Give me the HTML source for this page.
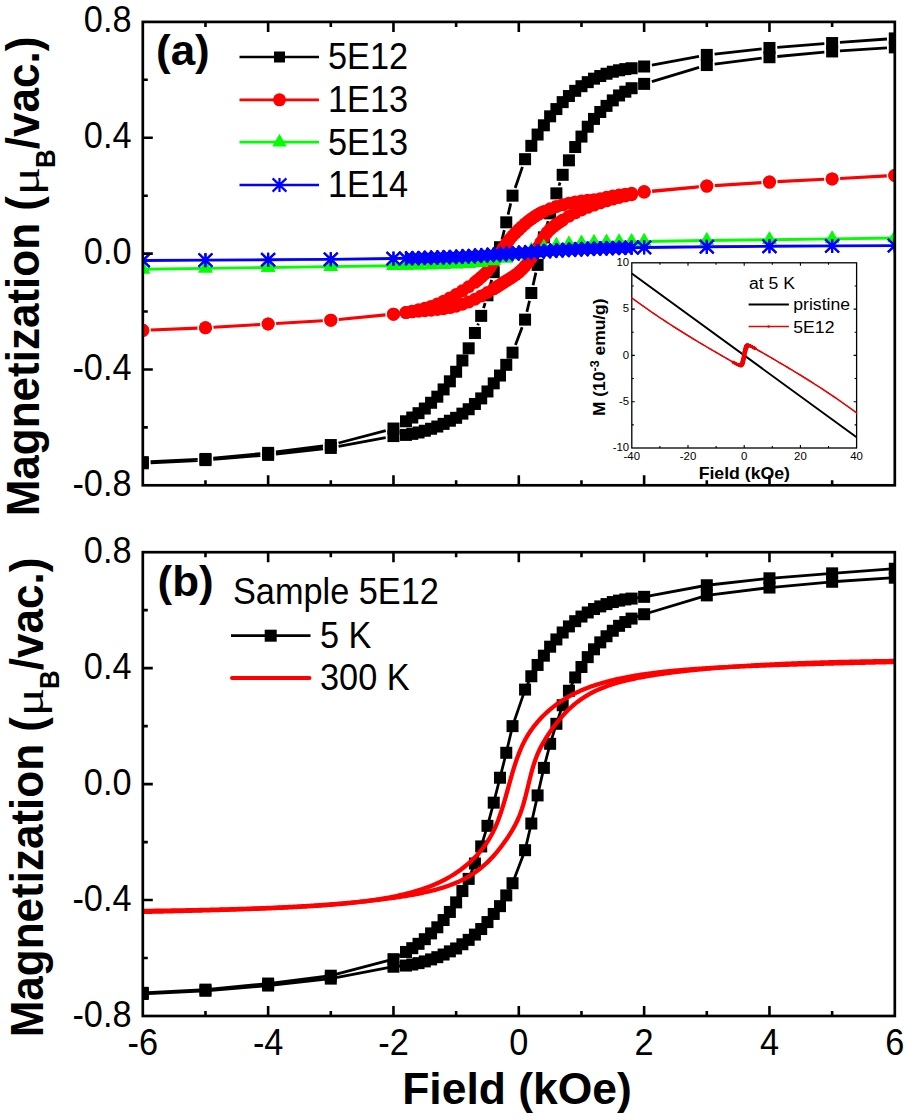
<!DOCTYPE html><html><head><meta charset="utf-8"><title>Magnetization</title><style>html,body{margin:0;padding:0;background:#fff;width:908px;height:1120px;overflow:hidden}</style></head><body><svg width="908" height="1120" viewBox="0 0 908 1120" style="display:block"><rect width="908" height="1120" fill="#fff"/><defs><clipPath id="ca"><rect x="142.8" y="21.9" width="752.0" height="463.40000000000003"/></clipPath><clipPath id="cb"><rect x="142.8" y="552.2" width="752.0" height="463.79999999999995"/></clipPath></defs><g clip-path="url(#ca)"><path d="M887,38.99L839.93,42.47M824.34,43.66L777.26,47.35M761.68,48.83L714.59,54.05M699.03,56.35L651.9,65.07M522.42,166.88L515.18,187.97M510.71,203.43L508.09,214.57M504.32,230.07L501.95,239.48M498.05,254.97L495.68,264.39M491.64,279.87L489.56,287.57M485.11,303.03L483.55,308.15M478.38,323.56L477.75,325.27M385.73,430.57L338.54,443M323.01,446.01L275.92,451.89M260.34,453.62L213.26,458.19M197.67,459.34L150.6,461.73M150.6,462.89L197.67,460.5M213.26,459.45L260.34,455.54M275.92,454.03L323.01,448.8M338.57,446.47L385.7,437.54M515.45,344.97L522.15,327.32M526.89,311.88L529.51,300.74M533.06,285.23L535.87,272.65M539.37,257.14L542.1,245.14M545.88,229.64L548.12,221.08M552.55,205.62L553.98,201.08M559,185.65L560.06,182.53M651.86,81.56L699.08,67.37M714.59,64.08L761.68,58.21M777.26,56.51L824.34,52.16M839.93,50.94L887,47.89" fill="none" stroke="#000" stroke-width="2.8" stroke-linecap="butt"/><rect x="888.8" y="32.41" width="12" height="12" fill="#000"/><rect x="826.13" y="37.04" width="12" height="12" fill="#000"/><rect x="763.47" y="41.97" width="12" height="12" fill="#000"/><rect x="700.8" y="48.92" width="12" height="12" fill="#000"/><rect x="638.13" y="60.5" width="12" height="12" fill="#000"/><rect x="625.6" y="62.24" width="12" height="12" fill="#000"/><rect x="619.33" y="63.11" width="12" height="12" fill="#000"/><rect x="613.07" y="64.27" width="12" height="12" fill="#000"/><rect x="606.8" y="65.72" width="12" height="12" fill="#000"/><rect x="600.53" y="67.74" width="12" height="12" fill="#000"/><rect x="594.27" y="70.06" width="12" height="12" fill="#000"/><rect x="588" y="72.67" width="12" height="12" fill="#000"/><rect x="581.73" y="76.14" width="12" height="12" fill="#000"/><rect x="575.47" y="80.2" width="12" height="12" fill="#000"/><rect x="569.2" y="84.83" width="12" height="12" fill="#000"/><rect x="562.93" y="90.04" width="12" height="12" fill="#000"/><rect x="556.67" y="96.13" width="12" height="12" fill="#000"/><rect x="550.4" y="103.08" width="12" height="12" fill="#000"/><rect x="544.13" y="110.32" width="12" height="12" fill="#000"/><rect x="537.87" y="119.3" width="12" height="12" fill="#000"/><rect x="531.6" y="128.56" width="12" height="12" fill="#000"/><rect x="525.33" y="139.86" width="12" height="12" fill="#000"/><rect x="519.07" y="153.18" width="12" height="12" fill="#000"/><rect x="506.53" y="189.67" width="12" height="12" fill="#000"/><rect x="500.27" y="216.32" width="12" height="12" fill="#000"/><rect x="494" y="241.23" width="12" height="12" fill="#000"/><rect x="487.73" y="266.14" width="12" height="12" fill="#000"/><rect x="481.47" y="289.31" width="12" height="12" fill="#000"/><rect x="475.2" y="309.87" width="12" height="12" fill="#000"/><rect x="468.93" y="326.96" width="12" height="12" fill="#000"/><rect x="462.67" y="342.31" width="12" height="12" fill="#000"/><rect x="456.4" y="354.47" width="12" height="12" fill="#000"/><rect x="450.13" y="365.77" width="12" height="12" fill="#000"/><rect x="443.87" y="375.32" width="12" height="12" fill="#000"/><rect x="437.6" y="383.43" width="12" height="12" fill="#000"/><rect x="431.33" y="390.67" width="12" height="12" fill="#000"/><rect x="425.07" y="396.76" width="12" height="12" fill="#000"/><rect x="418.8" y="402.55" width="12" height="12" fill="#000"/><rect x="412.53" y="407.18" width="12" height="12" fill="#000"/><rect x="406.27" y="411.53" width="12" height="12" fill="#000"/><rect x="400" y="415.29" width="12" height="12" fill="#000"/><rect x="387.47" y="422.53" width="12" height="12" fill="#000"/><rect x="324.8" y="439.04" width="12" height="12" fill="#000"/><rect x="262.13" y="446.86" width="12" height="12" fill="#000"/><rect x="199.47" y="452.94" width="12" height="12" fill="#000"/><rect x="136.8" y="456.13" width="12" height="12" fill="#000"/><rect x="136.8" y="457.29" width="12" height="12" fill="#000"/><rect x="199.47" y="454.1" width="12" height="12" fill="#000"/><rect x="262.13" y="448.89" width="12" height="12" fill="#000"/><rect x="324.8" y="441.94" width="12" height="12" fill="#000"/><rect x="387.47" y="430.06" width="12" height="12" fill="#000"/><rect x="400" y="428.91" width="12" height="12" fill="#000"/><rect x="406.27" y="427.87" width="12" height="12" fill="#000"/><rect x="412.53" y="426.49" width="12" height="12" fill="#000"/><rect x="418.8" y="424.76" width="12" height="12" fill="#000"/><rect x="425.07" y="422.76" width="12" height="12" fill="#000"/><rect x="431.33" y="420.53" width="12" height="12" fill="#000"/><rect x="437.6" y="417.88" width="12" height="12" fill="#000"/><rect x="443.87" y="414.71" width="12" height="12" fill="#000"/><rect x="450.13" y="411.82" width="12" height="12" fill="#000"/><rect x="456.4" y="407.63" width="12" height="12" fill="#000"/><rect x="462.67" y="403.23" width="12" height="12" fill="#000"/><rect x="468.93" y="397.96" width="12" height="12" fill="#000"/><rect x="475.2" y="392.41" width="12" height="12" fill="#000"/><rect x="481.47" y="385.46" width="12" height="12" fill="#000"/><rect x="487.73" y="377.35" width="12" height="12" fill="#000"/><rect x="494" y="369.53" width="12" height="12" fill="#000"/><rect x="500.27" y="358.82" width="12" height="12" fill="#000"/><rect x="506.53" y="346.65" width="12" height="12" fill="#000"/><rect x="519.07" y="313.63" width="12" height="12" fill="#000"/><rect x="525.33" y="286.99" width="12" height="12" fill="#000"/><rect x="531.6" y="258.9" width="12" height="12" fill="#000"/><rect x="537.87" y="231.38" width="12" height="12" fill="#000"/><rect x="544.13" y="207.34" width="12" height="12" fill="#000"/><rect x="550.4" y="187.36" width="12" height="12" fill="#000"/><rect x="556.67" y="168.82" width="12" height="12" fill="#000"/><rect x="562.93" y="154.34" width="12" height="12" fill="#000"/><rect x="569.2" y="141.02" width="12" height="12" fill="#000"/><rect x="575.47" y="130.59" width="12" height="12" fill="#000"/><rect x="581.73" y="120.74" width="12" height="12" fill="#000"/><rect x="588" y="112.92" width="12" height="12" fill="#000"/><rect x="594.27" y="105.97" width="12" height="12" fill="#000"/><rect x="600.53" y="99.89" width="12" height="12" fill="#000"/><rect x="606.8" y="94.39" width="12" height="12" fill="#000"/><rect x="613.07" y="89.46" width="12" height="12" fill="#000"/><rect x="619.33" y="85.7" width="12" height="12" fill="#000"/><rect x="625.6" y="82.22" width="12" height="12" fill="#000"/><rect x="638.13" y="77.88" width="12" height="12" fill="#000"/><rect x="700.8" y="59.05" width="12" height="12" fill="#000"/><rect x="763.47" y="51.23" width="12" height="12" fill="#000"/><rect x="826.13" y="45.44" width="12" height="12" fill="#000"/><rect x="888.8" y="41.39" width="12" height="12" fill="#000"/><path d="M886.81,175.84L840.12,178.43M824.14,179.28L777.46,181.66M761.48,182.58L714.78,185.6M698.83,186.82L652.1,190.92M385.5,314.9L338.76,319.44M322.81,320.69L276.12,323.5M260.15,324.46L213.45,327.26M197.47,328.08L150.79,330.02M150.79,330.02L197.47,328.08M213.45,327.26L260.15,324.46M276.12,323.5L322.81,320.69M338.76,319.44L385.5,314.9M652.1,191.43L698.84,186.89M714.78,185.6L761.48,182.58M777.46,181.66L824.14,179.28M840.12,178.43L886.81,175.84" fill="none" stroke="#f00" stroke-width="3.1" stroke-linecap="butt"/><circle cx="894.8" cy="175.4" r="6.5" fill="#f00"/><circle cx="832.13" cy="178.88" r="6.5" fill="#f00"/><circle cx="769.47" cy="182.06" r="6.5" fill="#f00"/><circle cx="706.8" cy="186.12" r="6.5" fill="#f00"/><circle cx="644.13" cy="191.62" r="6.5" fill="#f00"/><circle cx="631.6" cy="193.27" r="6.5" fill="#f00"/><circle cx="625.33" cy="194.15" r="6.5" fill="#f00"/><circle cx="619.07" cy="195.06" r="6.5" fill="#f00"/><circle cx="612.8" cy="196.07" r="6.5" fill="#f00"/><circle cx="606.53" cy="197.35" r="6.5" fill="#f00"/><circle cx="600.27" cy="198.68" r="6.5" fill="#f00"/><circle cx="594" cy="199.69" r="6.5" fill="#f00"/><circle cx="587.73" cy="200.35" r="6.5" fill="#f00"/><circle cx="581.47" cy="200.97" r="6.5" fill="#f00"/><circle cx="575.2" cy="201.89" r="6.5" fill="#f00"/><circle cx="568.93" cy="203.22" r="6.5" fill="#f00"/><circle cx="562.67" cy="204.84" r="6.5" fill="#f00"/><circle cx="556.4" cy="206.62" r="6.5" fill="#f00"/><circle cx="550.13" cy="208.76" r="6.5" fill="#f00"/><circle cx="543.87" cy="211.4" r="6.5" fill="#f00"/><circle cx="540.73" cy="212.96" r="6.5" fill="#f00"/><circle cx="537.6" cy="214.71" r="6.5" fill="#f00"/><circle cx="534.47" cy="216.7" r="6.5" fill="#f00"/><circle cx="531.33" cy="218.9" r="6.5" fill="#f00"/><circle cx="528.2" cy="221.26" r="6.5" fill="#f00"/><circle cx="525.07" cy="223.85" r="6.5" fill="#f00"/><circle cx="521.93" cy="226.65" r="6.5" fill="#f00"/><circle cx="518.8" cy="229.58" r="6.5" fill="#f00"/><circle cx="515.67" cy="232.66" r="6.5" fill="#f00"/><circle cx="512.53" cy="235.98" r="6.5" fill="#f00"/><circle cx="509.4" cy="239.58" r="6.5" fill="#f00"/><circle cx="506.27" cy="243.53" r="6.5" fill="#f00"/><circle cx="503.13" cy="247.88" r="6.5" fill="#f00"/><circle cx="500" cy="252.8" r="6.5" fill="#f00"/><circle cx="496.87" cy="257.65" r="6.5" fill="#f00"/><circle cx="493.73" cy="262.27" r="6.5" fill="#f00"/><circle cx="490.6" cy="266.8" r="6.5" fill="#f00"/><circle cx="487.47" cy="270.9" r="6.5" fill="#f00"/><circle cx="484.33" cy="274.27" r="6.5" fill="#f00"/><circle cx="481.2" cy="277.21" r="6.5" fill="#f00"/><circle cx="478.07" cy="279.87" r="6.5" fill="#f00"/><circle cx="474.93" cy="282.31" r="6.5" fill="#f00"/><circle cx="468.67" cy="286.77" r="6.5" fill="#f00"/><circle cx="462.4" cy="290.87" r="6.5" fill="#f00"/><circle cx="456.13" cy="294.58" r="6.5" fill="#f00"/><circle cx="449.87" cy="297.95" r="6.5" fill="#f00"/><circle cx="443.6" cy="301.17" r="6.5" fill="#f00"/><circle cx="437.33" cy="304.1" r="6.5" fill="#f00"/><circle cx="431.07" cy="306.43" r="6.5" fill="#f00"/><circle cx="424.8" cy="308.27" r="6.5" fill="#f00"/><circle cx="418.53" cy="309.81" r="6.5" fill="#f00"/><circle cx="412.27" cy="311.2" r="6.5" fill="#f00"/><circle cx="406" cy="312.45" r="6.5" fill="#f00"/><circle cx="393.47" cy="314.13" r="6.5" fill="#f00"/><circle cx="330.8" cy="320.21" r="6.5" fill="#f00"/><circle cx="268.13" cy="323.98" r="6.5" fill="#f00"/><circle cx="205.47" cy="327.74" r="6.5" fill="#f00"/><circle cx="142.8" cy="330.35" r="6.5" fill="#f00"/><circle cx="142.8" cy="330.35" r="6.5" fill="#f00"/><circle cx="205.47" cy="327.74" r="6.5" fill="#f00"/><circle cx="268.13" cy="323.98" r="6.5" fill="#f00"/><circle cx="330.8" cy="320.21" r="6.5" fill="#f00"/><circle cx="393.47" cy="314.13" r="6.5" fill="#f00"/><circle cx="406" cy="312.55" r="6.5" fill="#f00"/><circle cx="412.27" cy="311.79" r="6.5" fill="#f00"/><circle cx="418.53" cy="311.19" r="6.5" fill="#f00"/><circle cx="424.8" cy="310.72" r="6.5" fill="#f00"/><circle cx="431.07" cy="310.2" r="6.5" fill="#f00"/><circle cx="437.33" cy="309.51" r="6.5" fill="#f00"/><circle cx="443.6" cy="308.66" r="6.5" fill="#f00"/><circle cx="449.87" cy="307.59" r="6.5" fill="#f00"/><circle cx="456.13" cy="306.15" r="6.5" fill="#f00"/><circle cx="462.4" cy="304.25" r="6.5" fill="#f00"/><circle cx="468.67" cy="302.02" r="6.5" fill="#f00"/><circle cx="474.93" cy="299.24" r="6.5" fill="#f00"/><circle cx="481.2" cy="295.97" r="6.5" fill="#f00"/><circle cx="487.47" cy="292.52" r="6.5" fill="#f00"/><circle cx="493.73" cy="288.82" r="6.5" fill="#f00"/><circle cx="496.87" cy="286.87" r="6.5" fill="#f00"/><circle cx="500" cy="284.88" r="6.5" fill="#f00"/><circle cx="503.13" cy="282.85" r="6.5" fill="#f00"/><circle cx="506.27" cy="280.87" r="6.5" fill="#f00"/><circle cx="509.4" cy="278.91" r="6.5" fill="#f00"/><circle cx="512.53" cy="276.9" r="6.5" fill="#f00"/><circle cx="515.67" cy="274.73" r="6.5" fill="#f00"/><circle cx="518.8" cy="272.3" r="6.5" fill="#f00"/><circle cx="521.93" cy="269.5" r="6.5" fill="#f00"/><circle cx="525.07" cy="266.1" r="6.5" fill="#f00"/><circle cx="528.2" cy="262.18" r="6.5" fill="#f00"/><circle cx="531.33" cy="257.94" r="6.5" fill="#f00"/><circle cx="534.47" cy="253.14" r="6.5" fill="#f00"/><circle cx="537.6" cy="247.82" r="6.5" fill="#f00"/><circle cx="540.73" cy="242.59" r="6.5" fill="#f00"/><circle cx="543.87" cy="237.33" r="6.5" fill="#f00"/><circle cx="547" cy="232.61" r="6.5" fill="#f00"/><circle cx="550.13" cy="229.34" r="6.5" fill="#f00"/><circle cx="553.27" cy="226.64" r="6.5" fill="#f00"/><circle cx="556.4" cy="224.32" r="6.5" fill="#f00"/><circle cx="559.53" cy="222.17" r="6.5" fill="#f00"/><circle cx="562.67" cy="220.07" r="6.5" fill="#f00"/><circle cx="568.93" cy="216.22" r="6.5" fill="#f00"/><circle cx="575.2" cy="212.83" r="6.5" fill="#f00"/><circle cx="581.47" cy="209.9" r="6.5" fill="#f00"/><circle cx="587.73" cy="207.34" r="6.5" fill="#f00"/><circle cx="594" cy="205.03" r="6.5" fill="#f00"/><circle cx="600.27" cy="202.86" r="6.5" fill="#f00"/><circle cx="606.53" cy="200.84" r="6.5" fill="#f00"/><circle cx="612.8" cy="199.03" r="6.5" fill="#f00"/><circle cx="619.07" cy="197.44" r="6.5" fill="#f00"/><circle cx="625.33" cy="196.02" r="6.5" fill="#f00"/><circle cx="631.6" cy="194.67" r="6.5" fill="#f00"/><circle cx="644.13" cy="192.2" r="6.5" fill="#f00"/><circle cx="706.8" cy="186.12" r="6.5" fill="#f00"/><circle cx="769.47" cy="182.06" r="6.5" fill="#f00"/><circle cx="832.13" cy="178.88" r="6.5" fill="#f00"/><circle cx="894.8" cy="175.4" r="6.5" fill="#f00"/><polyline points="894.8,237.92 832.13,238.79 769.47,239.65 706.8,240.52 644.13,241.42 631.6,241.62 619.07,241.84 606.53,242.11 594,242.46 581.47,242.98 568.93,243.79 556.4,245.09 543.87,247.13 531.33,250.03 518.8,253.56 506.27,257.08 493.73,259.98 481.2,262.02 468.67,263.32 456.13,264.13 443.6,264.65 431.07,265.01 418.53,265.27 406,265.5 393.47,265.69 330.8,266.59 268.13,267.46 205.47,268.33 142.8,269.2 142.8,269.28 205.47,268.41 268.13,267.55 330.8,266.68 393.47,265.79 406,265.6 418.53,265.39 431.07,265.15 443.6,264.84 456.13,264.42 468.67,263.78 481.2,262.75 493.73,261.1 506.27,258.64 518.8,255.37 531.33,251.75 543.87,248.48 556.4,246.01 568.93,244.37 581.47,243.34 594,242.69 606.53,242.27 619.07,241.97 631.6,241.72 644.13,241.52 706.8,240.61 769.47,239.74 832.13,238.87 894.8,238" fill="none" stroke="#0f0" stroke-width="2.8" stroke-linejoin="round" stroke-linecap="round" /><path d="M894.8,229.52L902.05,242.12L887.55,242.12Z" fill="#0f0"/><path d="M832.13,230.39L839.38,242.99L824.88,242.99Z" fill="#0f0"/><path d="M769.47,231.25L776.72,243.85L762.22,243.85Z" fill="#0f0"/><path d="M706.8,232.12L714.05,244.72L699.55,244.72Z" fill="#0f0"/><path d="M644.13,233.02L651.38,245.62L636.88,245.62Z" fill="#0f0"/><path d="M631.6,233.22L638.85,245.82L624.35,245.82Z" fill="#0f0"/><path d="M619.07,233.44L626.32,246.04L611.82,246.04Z" fill="#0f0"/><path d="M606.53,233.71L613.78,246.31L599.28,246.31Z" fill="#0f0"/><path d="M594,234.06L601.25,246.66L586.75,246.66Z" fill="#0f0"/><path d="M581.47,234.58L588.72,247.18L574.22,247.18Z" fill="#0f0"/><path d="M568.93,235.39L576.18,247.99L561.68,247.99Z" fill="#0f0"/><path d="M556.4,236.69L563.65,249.29L549.15,249.29Z" fill="#0f0"/><path d="M543.87,238.73L551.12,251.33L536.62,251.33Z" fill="#0f0"/><path d="M531.33,241.63L538.58,254.23L524.08,254.23Z" fill="#0f0"/><path d="M518.8,245.16L526.05,257.76L511.55,257.76Z" fill="#0f0"/><path d="M506.27,248.68L513.52,261.28L499.02,261.28Z" fill="#0f0"/><path d="M493.73,251.58L500.98,264.18L486.48,264.18Z" fill="#0f0"/><path d="M481.2,253.62L488.45,266.22L473.95,266.22Z" fill="#0f0"/><path d="M468.67,254.92L475.92,267.52L461.42,267.52Z" fill="#0f0"/><path d="M456.13,255.73L463.38,268.33L448.88,268.33Z" fill="#0f0"/><path d="M443.6,256.25L450.85,268.85L436.35,268.85Z" fill="#0f0"/><path d="M431.07,256.61L438.32,269.21L423.82,269.21Z" fill="#0f0"/><path d="M418.53,256.87L425.78,269.47L411.28,269.47Z" fill="#0f0"/><path d="M406,257.1L413.25,269.7L398.75,269.7Z" fill="#0f0"/><path d="M393.47,257.29L400.72,269.89L386.22,269.89Z" fill="#0f0"/><path d="M330.8,258.19L338.05,270.79L323.55,270.79Z" fill="#0f0"/><path d="M268.13,259.06L275.38,271.66L260.88,271.66Z" fill="#0f0"/><path d="M205.47,259.93L212.72,272.53L198.22,272.53Z" fill="#0f0"/><path d="M142.8,260.8L150.05,273.4L135.55,273.4Z" fill="#0f0"/><path d="M142.8,260.88L150.05,273.48L135.55,273.48Z" fill="#0f0"/><path d="M205.47,260.01L212.72,272.61L198.22,272.61Z" fill="#0f0"/><path d="M268.13,259.15L275.38,271.75L260.88,271.75Z" fill="#0f0"/><path d="M330.8,258.28L338.05,270.88L323.55,270.88Z" fill="#0f0"/><path d="M393.47,257.39L400.72,269.99L386.22,269.99Z" fill="#0f0"/><path d="M406,257.2L413.25,269.8L398.75,269.8Z" fill="#0f0"/><path d="M418.53,256.99L425.78,269.59L411.28,269.59Z" fill="#0f0"/><path d="M431.07,256.75L438.32,269.35L423.82,269.35Z" fill="#0f0"/><path d="M443.6,256.44L450.85,269.04L436.35,269.04Z" fill="#0f0"/><path d="M456.13,256.02L463.38,268.62L448.88,268.62Z" fill="#0f0"/><path d="M468.67,255.38L475.92,267.98L461.42,267.98Z" fill="#0f0"/><path d="M481.2,254.35L488.45,266.95L473.95,266.95Z" fill="#0f0"/><path d="M493.73,252.7L500.98,265.3L486.48,265.3Z" fill="#0f0"/><path d="M506.27,250.24L513.52,262.84L499.02,262.84Z" fill="#0f0"/><path d="M518.8,246.97L526.05,259.57L511.55,259.57Z" fill="#0f0"/><path d="M531.33,243.35L538.58,255.95L524.08,255.95Z" fill="#0f0"/><path d="M543.87,240.08L551.12,252.68L536.62,252.68Z" fill="#0f0"/><path d="M556.4,237.61L563.65,250.21L549.15,250.21Z" fill="#0f0"/><path d="M568.93,235.97L576.18,248.57L561.68,248.57Z" fill="#0f0"/><path d="M581.47,234.94L588.72,247.54L574.22,247.54Z" fill="#0f0"/><path d="M594,234.29L601.25,246.89L586.75,246.89Z" fill="#0f0"/><path d="M606.53,233.87L613.78,246.47L599.28,246.47Z" fill="#0f0"/><path d="M619.07,233.57L626.32,246.17L611.82,246.17Z" fill="#0f0"/><path d="M631.6,233.32L638.85,245.92L624.35,245.92Z" fill="#0f0"/><path d="M644.13,233.12L651.38,245.72L636.88,245.72Z" fill="#0f0"/><path d="M706.8,232.21L714.05,244.81L699.55,244.81Z" fill="#0f0"/><path d="M769.47,231.34L776.72,243.94L762.22,243.94Z" fill="#0f0"/><path d="M832.13,230.47L839.38,243.07L824.88,243.07Z" fill="#0f0"/><path d="M894.8,229.6L902.05,242.2L887.55,242.2Z" fill="#0f0"/><polyline points="894.8,245.55 832.13,245.9 769.47,246.26 706.8,246.69 644.13,247.36 631.6,247.57 625.33,247.69 619.07,247.83 612.8,247.98 606.53,248.15 600.27,248.33 594,248.53 587.73,248.75 581.47,249 575.2,249.26 568.93,249.56 562.67,249.87 556.4,250.21 550.13,250.58 543.87,250.96 537.6,251.37 531.33,251.79 525.07,252.22 518.8,252.66 512.53,253.11 506.27,253.56 500,254 493.73,254.42 487.47,254.84 481.2,255.24 474.93,255.61 468.67,255.97 462.4,256.3 456.13,256.6 449.87,256.89 443.6,257.14 437.33,257.38 431.07,257.59 424.8,257.79 418.53,257.96 412.27,258.12 406,258.27 393.47,258.52 330.8,259.28 268.13,259.72 205.47,260.08 142.8,260.44 142.8,260.49 205.47,260.14 268.13,259.78 330.8,259.36 393.47,258.68 406,258.47 412.27,258.35 418.53,258.21 424.8,258.06 431.07,257.9 437.33,257.71 443.6,257.51 449.87,257.29 456.13,257.04 462.4,256.78 468.67,256.49 474.93,256.17 481.2,255.83 487.47,255.47 493.73,255.08 500,254.68 506.27,254.25 512.53,253.82 518.8,253.38 525.07,252.93 531.33,252.49 537.6,252.05 543.87,251.62 550.13,251.2 556.4,250.8 562.67,250.43 568.93,250.07 575.2,249.74 581.47,249.44 587.73,249.15 594,248.9 600.27,248.66 606.53,248.45 612.8,248.25 619.07,248.08 625.33,247.92 631.6,247.77 644.13,247.53 706.8,246.77 769.47,246.33 832.13,245.96 894.8,245.61" fill="none" stroke="#00f" stroke-width="2.8" stroke-linejoin="round" stroke-linecap="round" /><path d="M894.8,238.55V252.55M887.9,238.95L901.7,252.15M901.7,238.95L887.9,252.15" stroke="#00f" stroke-width="2.2" fill="none"/><path d="M832.13,238.9V252.9M825.23,239.3L839.03,252.5M839.03,239.3L825.23,252.5" stroke="#00f" stroke-width="2.2" fill="none"/><path d="M769.47,239.26V253.26M762.57,239.66L776.37,252.86M776.37,239.66L762.57,252.86" stroke="#00f" stroke-width="2.2" fill="none"/><path d="M706.8,239.69V253.69M699.9,240.09L713.7,253.29M713.7,240.09L699.9,253.29" stroke="#00f" stroke-width="2.2" fill="none"/><path d="M644.13,240.36V254.36M637.23,240.76L651.03,253.96M651.03,240.76L637.23,253.96" stroke="#00f" stroke-width="2.2" fill="none"/><path d="M631.6,240.57V254.57M624.7,240.97L638.5,254.17M638.5,240.97L624.7,254.17" stroke="#00f" stroke-width="2.2" fill="none"/><path d="M625.33,240.69V254.69M618.43,241.09L632.23,254.29M632.23,241.09L618.43,254.29" stroke="#00f" stroke-width="2.2" fill="none"/><path d="M619.07,240.83V254.83M612.17,241.23L625.97,254.43M625.97,241.23L612.17,254.43" stroke="#00f" stroke-width="2.2" fill="none"/><path d="M612.8,240.98V254.98M605.9,241.38L619.7,254.58M619.7,241.38L605.9,254.58" stroke="#00f" stroke-width="2.2" fill="none"/><path d="M606.53,241.15V255.15M599.63,241.55L613.43,254.75M613.43,241.55L599.63,254.75" stroke="#00f" stroke-width="2.2" fill="none"/><path d="M600.27,241.33V255.33M593.37,241.73L607.17,254.93M607.17,241.73L593.37,254.93" stroke="#00f" stroke-width="2.2" fill="none"/><path d="M594,241.53V255.53M587.1,241.93L600.9,255.13M600.9,241.93L587.1,255.13" stroke="#00f" stroke-width="2.2" fill="none"/><path d="M587.73,241.75V255.75M580.83,242.15L594.63,255.35M594.63,242.15L580.83,255.35" stroke="#00f" stroke-width="2.2" fill="none"/><path d="M581.47,242V256M574.57,242.4L588.37,255.6M588.37,242.4L574.57,255.6" stroke="#00f" stroke-width="2.2" fill="none"/><path d="M575.2,242.26V256.26M568.3,242.66L582.1,255.86M582.1,242.66L568.3,255.86" stroke="#00f" stroke-width="2.2" fill="none"/><path d="M568.93,242.56V256.56M562.03,242.96L575.83,256.16M575.83,242.96L562.03,256.16" stroke="#00f" stroke-width="2.2" fill="none"/><path d="M562.67,242.87V256.87M555.77,243.27L569.57,256.47M569.57,243.27L555.77,256.47" stroke="#00f" stroke-width="2.2" fill="none"/><path d="M556.4,243.21V257.21M549.5,243.61L563.3,256.81M563.3,243.61L549.5,256.81" stroke="#00f" stroke-width="2.2" fill="none"/><path d="M550.13,243.58V257.58M543.23,243.98L557.03,257.18M557.03,243.98L543.23,257.18" stroke="#00f" stroke-width="2.2" fill="none"/><path d="M543.87,243.96V257.96M536.97,244.36L550.77,257.56M550.77,244.36L536.97,257.56" stroke="#00f" stroke-width="2.2" fill="none"/><path d="M537.6,244.37V258.37M530.7,244.77L544.5,257.97M544.5,244.77L530.7,257.97" stroke="#00f" stroke-width="2.2" fill="none"/><path d="M531.33,244.79V258.79M524.43,245.19L538.23,258.39M538.23,245.19L524.43,258.39" stroke="#00f" stroke-width="2.2" fill="none"/><path d="M525.07,245.22V259.22M518.17,245.62L531.97,258.82M531.97,245.62L518.17,258.82" stroke="#00f" stroke-width="2.2" fill="none"/><path d="M518.8,245.66V259.66M511.9,246.06L525.7,259.26M525.7,246.06L511.9,259.26" stroke="#00f" stroke-width="2.2" fill="none"/><path d="M512.53,246.11V260.11M505.63,246.51L519.43,259.71M519.43,246.51L505.63,259.71" stroke="#00f" stroke-width="2.2" fill="none"/><path d="M506.27,246.56V260.56M499.37,246.96L513.17,260.16M513.17,246.96L499.37,260.16" stroke="#00f" stroke-width="2.2" fill="none"/><path d="M500,247V261M493.1,247.4L506.9,260.6M506.9,247.4L493.1,260.6" stroke="#00f" stroke-width="2.2" fill="none"/><path d="M493.73,247.42V261.42M486.83,247.82L500.63,261.02M500.63,247.82L486.83,261.02" stroke="#00f" stroke-width="2.2" fill="none"/><path d="M487.47,247.84V261.84M480.57,248.24L494.37,261.44M494.37,248.24L480.57,261.44" stroke="#00f" stroke-width="2.2" fill="none"/><path d="M481.2,248.24V262.24M474.3,248.64L488.1,261.84M488.1,248.64L474.3,261.84" stroke="#00f" stroke-width="2.2" fill="none"/><path d="M474.93,248.61V262.61M468.03,249.01L481.83,262.21M481.83,249.01L468.03,262.21" stroke="#00f" stroke-width="2.2" fill="none"/><path d="M468.67,248.97V262.97M461.77,249.37L475.57,262.57M475.57,249.37L461.77,262.57" stroke="#00f" stroke-width="2.2" fill="none"/><path d="M462.4,249.3V263.3M455.5,249.7L469.3,262.9M469.3,249.7L455.5,262.9" stroke="#00f" stroke-width="2.2" fill="none"/><path d="M456.13,249.6V263.6M449.23,250L463.03,263.2M463.03,250L449.23,263.2" stroke="#00f" stroke-width="2.2" fill="none"/><path d="M449.87,249.89V263.89M442.97,250.29L456.77,263.49M456.77,250.29L442.97,263.49" stroke="#00f" stroke-width="2.2" fill="none"/><path d="M443.6,250.14V264.14M436.7,250.54L450.5,263.74M450.5,250.54L436.7,263.74" stroke="#00f" stroke-width="2.2" fill="none"/><path d="M437.33,250.38V264.38M430.43,250.78L444.23,263.98M444.23,250.78L430.43,263.98" stroke="#00f" stroke-width="2.2" fill="none"/><path d="M431.07,250.59V264.59M424.17,250.99L437.97,264.19M437.97,250.99L424.17,264.19" stroke="#00f" stroke-width="2.2" fill="none"/><path d="M424.8,250.79V264.79M417.9,251.19L431.7,264.39M431.7,251.19L417.9,264.39" stroke="#00f" stroke-width="2.2" fill="none"/><path d="M418.53,250.96V264.96M411.63,251.36L425.43,264.56M425.43,251.36L411.63,264.56" stroke="#00f" stroke-width="2.2" fill="none"/><path d="M412.27,251.12V265.12M405.37,251.52L419.17,264.72M419.17,251.52L405.37,264.72" stroke="#00f" stroke-width="2.2" fill="none"/><path d="M406,251.27V265.27M399.1,251.67L412.9,264.87M412.9,251.67L399.1,264.87" stroke="#00f" stroke-width="2.2" fill="none"/><path d="M393.47,251.52V265.52M386.57,251.92L400.37,265.12M400.37,251.92L386.57,265.12" stroke="#00f" stroke-width="2.2" fill="none"/><path d="M330.8,252.28V266.28M323.9,252.68L337.7,265.88M337.7,252.68L323.9,265.88" stroke="#00f" stroke-width="2.2" fill="none"/><path d="M268.13,252.72V266.72M261.23,253.12L275.03,266.32M275.03,253.12L261.23,266.32" stroke="#00f" stroke-width="2.2" fill="none"/><path d="M205.47,253.08V267.08M198.57,253.48L212.37,266.68M212.37,253.48L198.57,266.68" stroke="#00f" stroke-width="2.2" fill="none"/><path d="M142.8,253.44V267.44M135.9,253.84L149.7,267.04M149.7,253.84L135.9,267.04" stroke="#00f" stroke-width="2.2" fill="none"/><path d="M142.8,253.49V267.49M135.9,253.89L149.7,267.09M149.7,253.89L135.9,267.09" stroke="#00f" stroke-width="2.2" fill="none"/><path d="M205.47,253.14V267.14M198.57,253.54L212.37,266.74M212.37,253.54L198.57,266.74" stroke="#00f" stroke-width="2.2" fill="none"/><path d="M268.13,252.78V266.78M261.23,253.18L275.03,266.38M275.03,253.18L261.23,266.38" stroke="#00f" stroke-width="2.2" fill="none"/><path d="M330.8,252.36V266.36M323.9,252.76L337.7,265.96M337.7,252.76L323.9,265.96" stroke="#00f" stroke-width="2.2" fill="none"/><path d="M393.47,251.68V265.68M386.57,252.08L400.37,265.28M400.37,252.08L386.57,265.28" stroke="#00f" stroke-width="2.2" fill="none"/><path d="M406,251.47V265.47M399.1,251.87L412.9,265.07M412.9,251.87L399.1,265.07" stroke="#00f" stroke-width="2.2" fill="none"/><path d="M412.27,251.35V265.35M405.37,251.75L419.17,264.95M419.17,251.75L405.37,264.95" stroke="#00f" stroke-width="2.2" fill="none"/><path d="M418.53,251.21V265.21M411.63,251.61L425.43,264.81M425.43,251.61L411.63,264.81" stroke="#00f" stroke-width="2.2" fill="none"/><path d="M424.8,251.06V265.06M417.9,251.46L431.7,264.66M431.7,251.46L417.9,264.66" stroke="#00f" stroke-width="2.2" fill="none"/><path d="M431.07,250.9V264.9M424.17,251.3L437.97,264.5M437.97,251.3L424.17,264.5" stroke="#00f" stroke-width="2.2" fill="none"/><path d="M437.33,250.71V264.71M430.43,251.11L444.23,264.31M444.23,251.11L430.43,264.31" stroke="#00f" stroke-width="2.2" fill="none"/><path d="M443.6,250.51V264.51M436.7,250.91L450.5,264.11M450.5,250.91L436.7,264.11" stroke="#00f" stroke-width="2.2" fill="none"/><path d="M449.87,250.29V264.29M442.97,250.69L456.77,263.89M456.77,250.69L442.97,263.89" stroke="#00f" stroke-width="2.2" fill="none"/><path d="M456.13,250.04V264.04M449.23,250.44L463.03,263.64M463.03,250.44L449.23,263.64" stroke="#00f" stroke-width="2.2" fill="none"/><path d="M462.4,249.78V263.78M455.5,250.18L469.3,263.38M469.3,250.18L455.5,263.38" stroke="#00f" stroke-width="2.2" fill="none"/><path d="M468.67,249.49V263.49M461.77,249.89L475.57,263.09M475.57,249.89L461.77,263.09" stroke="#00f" stroke-width="2.2" fill="none"/><path d="M474.93,249.17V263.17M468.03,249.57L481.83,262.77M481.83,249.57L468.03,262.77" stroke="#00f" stroke-width="2.2" fill="none"/><path d="M481.2,248.83V262.83M474.3,249.23L488.1,262.43M488.1,249.23L474.3,262.43" stroke="#00f" stroke-width="2.2" fill="none"/><path d="M487.47,248.47V262.47M480.57,248.87L494.37,262.07M494.37,248.87L480.57,262.07" stroke="#00f" stroke-width="2.2" fill="none"/><path d="M493.73,248.08V262.08M486.83,248.48L500.63,261.68M500.63,248.48L486.83,261.68" stroke="#00f" stroke-width="2.2" fill="none"/><path d="M500,247.68V261.68M493.1,248.08L506.9,261.28M506.9,248.08L493.1,261.28" stroke="#00f" stroke-width="2.2" fill="none"/><path d="M506.27,247.25V261.25M499.37,247.65L513.17,260.85M513.17,247.65L499.37,260.85" stroke="#00f" stroke-width="2.2" fill="none"/><path d="M512.53,246.82V260.82M505.63,247.22L519.43,260.42M519.43,247.22L505.63,260.42" stroke="#00f" stroke-width="2.2" fill="none"/><path d="M518.8,246.38V260.38M511.9,246.78L525.7,259.98M525.7,246.78L511.9,259.98" stroke="#00f" stroke-width="2.2" fill="none"/><path d="M525.07,245.93V259.93M518.17,246.33L531.97,259.53M531.97,246.33L518.17,259.53" stroke="#00f" stroke-width="2.2" fill="none"/><path d="M531.33,245.49V259.49M524.43,245.89L538.23,259.09M538.23,245.89L524.43,259.09" stroke="#00f" stroke-width="2.2" fill="none"/><path d="M537.6,245.05V259.05M530.7,245.45L544.5,258.65M544.5,245.45L530.7,258.65" stroke="#00f" stroke-width="2.2" fill="none"/><path d="M543.87,244.62V258.62M536.97,245.02L550.77,258.22M550.77,245.02L536.97,258.22" stroke="#00f" stroke-width="2.2" fill="none"/><path d="M550.13,244.2V258.2M543.23,244.6L557.03,257.8M557.03,244.6L543.23,257.8" stroke="#00f" stroke-width="2.2" fill="none"/><path d="M556.4,243.8V257.8M549.5,244.2L563.3,257.4M563.3,244.2L549.5,257.4" stroke="#00f" stroke-width="2.2" fill="none"/><path d="M562.67,243.43V257.43M555.77,243.83L569.57,257.03M569.57,243.83L555.77,257.03" stroke="#00f" stroke-width="2.2" fill="none"/><path d="M568.93,243.07V257.07M562.03,243.47L575.83,256.67M575.83,243.47L562.03,256.67" stroke="#00f" stroke-width="2.2" fill="none"/><path d="M575.2,242.74V256.74M568.3,243.14L582.1,256.34M582.1,243.14L568.3,256.34" stroke="#00f" stroke-width="2.2" fill="none"/><path d="M581.47,242.44V256.44M574.57,242.84L588.37,256.04M588.37,242.84L574.57,256.04" stroke="#00f" stroke-width="2.2" fill="none"/><path d="M587.73,242.15V256.15M580.83,242.55L594.63,255.75M594.63,242.55L580.83,255.75" stroke="#00f" stroke-width="2.2" fill="none"/><path d="M594,241.9V255.9M587.1,242.3L600.9,255.5M600.9,242.3L587.1,255.5" stroke="#00f" stroke-width="2.2" fill="none"/><path d="M600.27,241.66V255.66M593.37,242.06L607.17,255.26M607.17,242.06L593.37,255.26" stroke="#00f" stroke-width="2.2" fill="none"/><path d="M606.53,241.45V255.45M599.63,241.85L613.43,255.05M613.43,241.85L599.63,255.05" stroke="#00f" stroke-width="2.2" fill="none"/><path d="M612.8,241.25V255.25M605.9,241.65L619.7,254.85M619.7,241.65L605.9,254.85" stroke="#00f" stroke-width="2.2" fill="none"/><path d="M619.07,241.08V255.08M612.17,241.48L625.97,254.68M625.97,241.48L612.17,254.68" stroke="#00f" stroke-width="2.2" fill="none"/><path d="M625.33,240.92V254.92M618.43,241.32L632.23,254.52M632.23,241.32L618.43,254.52" stroke="#00f" stroke-width="2.2" fill="none"/><path d="M631.6,240.77V254.77M624.7,241.17L638.5,254.37M638.5,241.17L624.7,254.37" stroke="#00f" stroke-width="2.2" fill="none"/><path d="M644.13,240.53V254.53M637.23,240.93L651.03,254.13M651.03,240.93L637.23,254.13" stroke="#00f" stroke-width="2.2" fill="none"/><path d="M706.8,239.77V253.77M699.9,240.17L713.7,253.37M713.7,240.17L699.9,253.37" stroke="#00f" stroke-width="2.2" fill="none"/><path d="M769.47,239.33V253.33M762.57,239.73L776.37,252.93M776.37,239.73L762.57,252.93" stroke="#00f" stroke-width="2.2" fill="none"/><path d="M832.13,238.96V252.96M825.23,239.36L839.03,252.56M839.03,239.36L825.23,252.56" stroke="#00f" stroke-width="2.2" fill="none"/><path d="M894.8,238.61V252.61M887.9,239.01L901.7,252.21M901.7,239.01L887.9,252.21" stroke="#00f" stroke-width="2.2" fill="none"/></g><g clip-path="url(#cb)"><polyline points="894.8,568.72 832.13,573.36 769.47,578.29 706.8,585.25 644.13,596.84 631.6,598.58 625.33,599.45 619.07,600.61 612.8,602.06 606.53,604.09 600.27,606.41 594,609.02 587.73,612.49 581.47,616.55 575.2,621.19 568.93,626.41 562.67,632.5 556.4,639.45 550.13,646.7 543.87,655.69 537.6,664.96 531.33,676.27 525.07,689.6 512.53,726.12 506.27,752.79 500,777.72 493.73,802.65 487.47,825.84 481.2,846.42 474.93,863.53 468.67,878.89 462.4,891.06 456.13,902.37 449.87,911.93 443.6,920.05 437.33,927.3 431.07,933.39 424.8,939.18 418.53,943.82 412.27,948.17 406,951.94 393.47,959.18 330.8,975.71 268.13,983.53 205.47,989.62 142.8,992.81 142.8,993.97 205.47,990.78 268.13,985.56 330.8,978.61 393.47,966.72 406,965.56 412.27,964.52 418.53,963.14 424.8,961.41 431.07,959.41 437.33,957.18 443.6,954.53 449.87,951.36 456.13,948.46 462.4,944.27 468.67,939.86 474.93,934.59 481.2,929.04 487.47,922.08 493.73,913.96 500,906.14 506.27,895.41 512.53,883.24 525.07,850.19 531.33,823.52 537.6,795.41 543.87,767.87 550.13,743.81 556.4,723.81 562.67,705.25 568.93,690.76 575.2,677.43 581.47,666.99 587.73,657.13 594,649.31 600.27,642.35 606.53,636.26 612.8,630.76 619.07,625.83 625.33,622.06 631.6,618.58 644.13,614.23 706.8,595.39 769.47,587.56 832.13,581.77 894.8,577.71" fill="none" stroke="#000" stroke-width="2.8" stroke-linejoin="round" stroke-linecap="round" /><rect x="888.8" y="562.72" width="12" height="12" fill="#000"/><rect x="826.13" y="567.36" width="12" height="12" fill="#000"/><rect x="763.47" y="572.29" width="12" height="12" fill="#000"/><rect x="700.8" y="579.25" width="12" height="12" fill="#000"/><rect x="638.13" y="590.84" width="12" height="12" fill="#000"/><rect x="625.6" y="592.58" width="12" height="12" fill="#000"/><rect x="619.33" y="593.45" width="12" height="12" fill="#000"/><rect x="613.07" y="594.61" width="12" height="12" fill="#000"/><rect x="606.8" y="596.06" width="12" height="12" fill="#000"/><rect x="600.53" y="598.09" width="12" height="12" fill="#000"/><rect x="594.27" y="600.41" width="12" height="12" fill="#000"/><rect x="588" y="603.02" width="12" height="12" fill="#000"/><rect x="581.73" y="606.49" width="12" height="12" fill="#000"/><rect x="575.47" y="610.55" width="12" height="12" fill="#000"/><rect x="569.2" y="615.19" width="12" height="12" fill="#000"/><rect x="562.93" y="620.41" width="12" height="12" fill="#000"/><rect x="556.67" y="626.5" width="12" height="12" fill="#000"/><rect x="550.4" y="633.45" width="12" height="12" fill="#000"/><rect x="544.13" y="640.7" width="12" height="12" fill="#000"/><rect x="537.87" y="649.69" width="12" height="12" fill="#000"/><rect x="531.6" y="658.96" width="12" height="12" fill="#000"/><rect x="525.33" y="670.27" width="12" height="12" fill="#000"/><rect x="519.07" y="683.6" width="12" height="12" fill="#000"/><rect x="506.53" y="720.12" width="12" height="12" fill="#000"/><rect x="500.27" y="746.79" width="12" height="12" fill="#000"/><rect x="494" y="771.72" width="12" height="12" fill="#000"/><rect x="487.73" y="796.65" width="12" height="12" fill="#000"/><rect x="481.47" y="819.84" width="12" height="12" fill="#000"/><rect x="475.2" y="840.42" width="12" height="12" fill="#000"/><rect x="468.93" y="857.53" width="12" height="12" fill="#000"/><rect x="462.67" y="872.89" width="12" height="12" fill="#000"/><rect x="456.4" y="885.06" width="12" height="12" fill="#000"/><rect x="450.13" y="896.37" width="12" height="12" fill="#000"/><rect x="443.87" y="905.93" width="12" height="12" fill="#000"/><rect x="437.6" y="914.05" width="12" height="12" fill="#000"/><rect x="431.33" y="921.3" width="12" height="12" fill="#000"/><rect x="425.07" y="927.39" width="12" height="12" fill="#000"/><rect x="418.8" y="933.18" width="12" height="12" fill="#000"/><rect x="412.53" y="937.82" width="12" height="12" fill="#000"/><rect x="406.27" y="942.17" width="12" height="12" fill="#000"/><rect x="400" y="945.94" width="12" height="12" fill="#000"/><rect x="387.47" y="953.18" width="12" height="12" fill="#000"/><rect x="324.8" y="969.71" width="12" height="12" fill="#000"/><rect x="262.13" y="977.53" width="12" height="12" fill="#000"/><rect x="199.47" y="983.62" width="12" height="12" fill="#000"/><rect x="136.8" y="986.81" width="12" height="12" fill="#000"/><rect x="136.8" y="987.97" width="12" height="12" fill="#000"/><rect x="199.47" y="984.78" width="12" height="12" fill="#000"/><rect x="262.13" y="979.56" width="12" height="12" fill="#000"/><rect x="324.8" y="972.61" width="12" height="12" fill="#000"/><rect x="387.47" y="960.72" width="12" height="12" fill="#000"/><rect x="400" y="959.56" width="12" height="12" fill="#000"/><rect x="406.27" y="958.52" width="12" height="12" fill="#000"/><rect x="412.53" y="957.14" width="12" height="12" fill="#000"/><rect x="418.8" y="955.41" width="12" height="12" fill="#000"/><rect x="425.07" y="953.41" width="12" height="12" fill="#000"/><rect x="431.33" y="951.18" width="12" height="12" fill="#000"/><rect x="437.6" y="948.53" width="12" height="12" fill="#000"/><rect x="443.87" y="945.36" width="12" height="12" fill="#000"/><rect x="450.13" y="942.46" width="12" height="12" fill="#000"/><rect x="456.4" y="938.27" width="12" height="12" fill="#000"/><rect x="462.67" y="933.86" width="12" height="12" fill="#000"/><rect x="468.93" y="928.59" width="12" height="12" fill="#000"/><rect x="475.2" y="923.04" width="12" height="12" fill="#000"/><rect x="481.47" y="916.08" width="12" height="12" fill="#000"/><rect x="487.73" y="907.96" width="12" height="12" fill="#000"/><rect x="494" y="900.14" width="12" height="12" fill="#000"/><rect x="500.27" y="889.41" width="12" height="12" fill="#000"/><rect x="506.53" y="877.24" width="12" height="12" fill="#000"/><rect x="519.07" y="844.19" width="12" height="12" fill="#000"/><rect x="525.33" y="817.52" width="12" height="12" fill="#000"/><rect x="531.6" y="789.41" width="12" height="12" fill="#000"/><rect x="537.87" y="761.87" width="12" height="12" fill="#000"/><rect x="544.13" y="737.81" width="12" height="12" fill="#000"/><rect x="550.4" y="717.81" width="12" height="12" fill="#000"/><rect x="556.67" y="699.25" width="12" height="12" fill="#000"/><rect x="562.93" y="684.76" width="12" height="12" fill="#000"/><rect x="569.2" y="671.43" width="12" height="12" fill="#000"/><rect x="575.47" y="660.99" width="12" height="12" fill="#000"/><rect x="581.73" y="651.13" width="12" height="12" fill="#000"/><rect x="588" y="643.31" width="12" height="12" fill="#000"/><rect x="594.27" y="636.35" width="12" height="12" fill="#000"/><rect x="600.53" y="630.26" width="12" height="12" fill="#000"/><rect x="606.8" y="624.76" width="12" height="12" fill="#000"/><rect x="613.07" y="619.83" width="12" height="12" fill="#000"/><rect x="619.33" y="616.06" width="12" height="12" fill="#000"/><rect x="625.6" y="612.58" width="12" height="12" fill="#000"/><rect x="638.13" y="608.23" width="12" height="12" fill="#000"/><rect x="700.8" y="589.39" width="12" height="12" fill="#000"/><rect x="763.47" y="581.56" width="12" height="12" fill="#000"/><rect x="826.13" y="575.77" width="12" height="12" fill="#000"/><rect x="888.8" y="571.71" width="12" height="12" fill="#000"/><polyline points="894.8,662.03 893.54,662.06 892.29,662.09 891.03,662.12 889.78,662.15 888.52,662.18 887.27,662.2 886.01,662.23 884.76,662.26 883.5,662.29 882.25,662.32 880.99,662.35 879.73,662.38 878.48,662.41 877.22,662.44 875.97,662.46 874.71,662.49 873.46,662.52 872.2,662.55 870.95,662.58 869.69,662.61 868.44,662.64 867.18,662.67 865.93,662.7 864.67,662.73 863.41,662.76 862.16,662.79 860.9,662.82 859.65,662.85 858.39,662.88 857.14,662.91 855.88,662.94 854.63,662.97 853.37,663 852.12,663.03 850.86,663.06 849.6,663.09 848.35,663.12 847.09,663.15 845.84,663.18 844.58,663.21 843.33,663.24 842.07,663.27 840.82,663.3 839.56,663.33 838.31,663.37 837.05,663.4 835.79,663.43 834.54,663.46 833.28,663.49 832.03,663.52 830.77,663.56 829.52,663.59 828.26,663.62 827.01,663.65 825.75,663.69 824.5,663.72 823.24,663.75 821.99,663.78 820.73,663.82 819.47,663.85 818.22,663.88 816.96,663.92 815.71,663.95 814.45,663.98 813.2,664.02 811.94,664.05 810.69,664.09 809.43,664.12 808.18,664.16 806.92,664.19 805.66,664.23 804.41,664.26 803.15,664.3 801.9,664.33 800.64,664.37 799.39,664.4 798.13,664.44 796.88,664.48 795.62,664.51 794.37,664.55 793.11,664.59 791.86,664.63 790.6,664.66 789.34,664.7 788.09,664.74 786.83,664.78 785.58,664.82 784.32,664.86 783.07,664.89 781.81,664.93 780.56,664.97 779.3,665.01 778.05,665.06 776.79,665.1 775.53,665.14 774.28,665.18 773.02,665.22 771.77,665.26 770.51,665.31 769.26,665.35 768,665.39 766.75,665.44 765.49,665.48 764.24,665.52 762.98,665.57 761.72,665.61 760.47,665.66 759.21,665.71 757.96,665.75 756.7,665.8 755.45,665.85 754.19,665.9 752.94,665.95 751.68,665.99 750.43,666.04 749.17,666.09 747.92,666.15 746.66,666.2 745.4,666.25 744.15,666.3 742.89,666.35 741.64,666.41 740.38,666.46 739.13,666.52 737.87,666.57 736.62,666.63 735.36,666.69 734.11,666.74 732.85,666.8 731.59,666.86 730.34,666.92 729.08,666.98 727.83,667.04 726.57,667.1 725.32,667.17 724.06,667.23 722.81,667.3 721.55,667.36 720.3,667.43 719.04,667.5 717.78,667.56 716.53,667.63 715.27,667.7 714.02,667.77 712.76,667.85 711.51,667.92 710.25,667.99 709,668.07 707.74,668.15 706.49,668.22 705.23,668.3 703.98,668.38 702.72,668.46 701.46,668.55 700.21,668.63 698.95,668.71 697.7,668.8 696.44,668.89 695.19,668.98 693.93,669.07 692.68,669.16 691.42,669.25 690.17,669.35 688.91,669.45 687.65,669.54 686.4,669.64 685.14,669.75 683.89,669.85 682.63,669.95 681.38,670.06 680.12,670.17 678.87,670.28 677.61,670.39 676.36,670.51 675.1,670.62 673.85,670.74 672.59,670.86 671.33,670.98 670.08,671.11 668.82,671.23 667.57,671.36 666.31,671.49 665.06,671.63 663.8,671.76 662.55,671.9 661.29,672.04 660.04,672.19 658.78,672.33 657.52,672.48 656.27,672.63 655.01,672.79 653.76,672.94 652.5,673.1 651.25,673.27 649.99,673.43 648.74,673.6 647.48,673.78 646.23,673.95 644.97,674.13 643.71,674.32 642.46,674.5 641.2,674.69 639.95,674.89 638.69,675.08 637.44,675.28 636.18,675.49 634.93,675.7 633.67,675.91 632.42,676.13 631.16,676.35 629.91,676.58 628.65,676.81 627.39,677.05 626.14,677.29 624.88,677.53 623.63,677.78 622.37,678.04 621.12,678.3 619.86,678.57 618.61,678.84 617.35,679.12 616.1,679.4 614.84,679.69 613.58,679.98 612.33,680.29 611.07,680.6 609.82,680.91 608.56,681.23 607.31,681.56 606.05,681.9 604.8,682.24 603.54,682.6 602.29,682.96 601.03,683.32 599.77,683.7 598.52,684.08 597.26,684.48 596.01,684.88 594.75,685.29 593.5,685.72 592.24,686.15 590.99,686.59 589.73,687.05 588.48,687.51 587.22,687.99 585.97,688.47 584.71,688.97 583.45,689.49 582.2,690.01 580.94,690.55 579.69,691.1 578.43,691.67 577.18,692.25 575.92,692.85 574.67,693.46 573.41,694.09 572.16,694.73 570.9,695.4 569.64,696.08 568.39,696.78 567.13,697.49 565.88,698.23 564.62,698.99 563.37,699.77 562.11,700.57 560.86,701.39 559.6,702.24 558.35,703.11 557.09,704 555.84,704.92 554.58,705.87 553.32,706.84 552.07,707.84 550.81,708.87 549.56,709.93 548.3,711.02 547.05,712.15 545.79,713.3 544.54,714.5 543.28,715.73 542.03,717 540.77,718.31 539.51,719.66 538.26,721.06 537,722.51 535.75,724.02 534.49,725.58 533.24,727.21 531.98,728.91 530.73,730.69 529.47,732.56 528.22,734.52 526.96,736.59 525.7,738.79 524.45,741.12 523.19,743.6 521.94,746.25 520.68,749.09 519.43,752.12 518.17,755.36 516.92,758.82 515.66,762.5 514.41,766.39 513.15,770.47 511.9,774.73 510.64,779.13 509.38,783.62 508.13,788.15 506.87,792.67 505.62,797.13 504.36,801.48 503.11,805.67 501.85,809.68 500.6,813.49 499.34,817.08 498.09,820.44 496.83,823.6 495.57,826.55 494.32,829.31 493.06,831.89 491.81,834.31 490.55,836.58 489.3,838.73 488.04,840.75 486.79,842.68 485.53,844.5 484.28,846.25 483.02,847.92 481.76,849.52 480.51,851.06 479.25,852.54 478,853.97 476.74,855.36 475.49,856.69 474.23,857.99 472.98,859.24 471.72,860.45 470.47,861.63 469.21,862.78 467.96,863.89 466.7,864.97 465.44,866.01 464.19,867.03 462.93,868.02 461.68,868.98 460.42,869.92 459.17,870.83 457.91,871.71 456.66,872.57 455.4,873.41 454.15,874.22 452.89,875.01 451.63,875.78 450.38,876.53 449.12,877.26 447.87,877.97 446.61,878.66 445.36,879.34 444.1,879.99 442.85,880.63 441.59,881.25 440.34,881.86 439.08,882.45 437.83,883.02 436.57,883.58 435.31,884.13 434.06,884.66 432.8,885.18 431.55,885.69 430.29,886.19 429.04,886.67 427.78,887.14 426.53,887.6 425.27,888.05 424.02,888.49 422.76,888.92 421.5,889.34 420.25,889.74 418.99,890.14 417.74,890.53 416.48,890.92 415.23,891.29 413.97,891.65 412.72,892.01 411.46,892.36 410.21,892.7 408.95,893.03 407.69,893.36 406.44,893.68 405.18,893.99 403.93,894.3 402.67,894.6 401.42,894.89 400.16,895.18 398.91,895.46 397.65,895.74 396.4,896.01 395.14,896.27 393.89,896.53 392.63,896.78 391.37,897.03 390.12,897.27 388.86,897.51 387.61,897.75 386.35,897.98 385.1,898.2 383.84,898.42 382.59,898.64 381.33,898.85 380.08,899.06 378.82,899.26 377.56,899.46 376.31,899.66 375.05,899.85 373.8,900.04 372.54,900.22 371.29,900.4 370.03,900.58 368.78,900.76 367.52,900.93 366.27,901.09 365.01,901.26 363.75,901.42 362.5,901.58 361.24,901.74 359.99,901.89 358.73,902.04 357.48,902.19 356.22,902.33 354.97,902.48 353.71,902.62 352.46,902.75 351.2,902.89 349.95,903.02 348.69,903.15 347.43,903.28 346.18,903.41 344.92,903.53 343.67,903.65 342.41,903.77 341.16,903.89 339.9,904 338.65,904.12 337.39,904.23 336.14,904.34 334.88,904.44 333.62,904.55 332.37,904.65 331.11,904.76 329.86,904.86 328.6,904.96 327.35,905.05 326.09,905.15 324.84,905.25 323.58,905.34 322.33,905.43 321.07,905.52 319.82,905.61 318.56,905.7 317.3,905.78 316.05,905.87 314.79,905.95 313.54,906.03 312.28,906.11 311.03,906.19 309.77,906.27 308.52,906.35 307.26,906.42 306.01,906.5 304.75,906.57 303.49,906.64 302.24,906.72 300.98,906.79 299.73,906.86 298.47,906.93 297.22,906.99 295.96,907.06 294.71,907.13 293.45,907.19 292.2,907.26 290.94,907.32 289.68,907.38 288.43,907.44 287.17,907.51 285.92,907.57 284.66,907.63 283.41,907.68 282.15,907.74 280.9,907.8 279.64,907.86 278.39,907.91 277.13,907.97 275.88,908.02 274.62,908.08 273.36,908.13 272.11,908.18 270.85,908.23 269.6,908.29 268.34,908.34 267.09,908.39 265.83,908.44 264.58,908.49 263.32,908.54 262.07,908.58 260.81,908.63 259.55,908.68 258.3,908.73 257.04,908.77 255.79,908.82 254.53,908.87 253.28,908.91 252.02,908.96 250.77,909 249.51,909.04 248.26,909.09 247,909.13 245.74,909.17 244.49,909.22 243.23,909.26 241.98,909.3 240.72,909.34 239.47,909.38 238.21,909.42 236.96,909.46 235.7,909.5 234.45,909.54 233.19,909.58 231.94,909.62 230.68,909.66 229.42,909.7 228.17,909.74 226.91,909.78 225.66,909.81 224.4,909.85 223.15,909.89 221.89,909.93 220.64,909.96 219.38,910 218.13,910.04 216.87,910.07 215.61,910.11 214.36,910.14 213.1,910.18 211.85,910.21 210.59,910.25 209.34,910.28 208.08,910.32 206.83,910.35 205.57,910.39 204.32,910.42 203.06,910.46 201.81,910.49 200.55,910.52 199.29,910.56 198.04,910.59 196.78,910.62 195.53,910.66 194.27,910.69 193.02,910.72 191.76,910.76 190.51,910.79 189.25,910.82 188,910.85 186.74,910.89 185.48,910.92 184.23,910.95 182.97,910.98 181.72,911.01 180.46,911.04 179.21,911.08 177.95,911.11 176.7,911.14 175.44,911.17 174.19,911.2 172.93,911.23 171.67,911.26 170.42,911.29 169.16,911.32 167.91,911.36 166.65,911.39 165.4,911.42 164.14,911.45 162.89,911.48 161.63,911.51 160.38,911.54 159.12,911.57 157.87,911.6 156.61,911.63 155.35,911.66 154.1,911.69 152.84,911.72 151.59,911.75 150.33,911.77 149.08,911.8 147.82,911.83 146.57,911.86 145.31,911.89 144.06,911.92 142.8,911.95" fill="none" stroke="#f00" stroke-width="4.3" stroke-linejoin="round" stroke-linecap="round" /><polyline points="142.8,910.92 144.06,910.9 145.31,910.89 146.57,910.87 147.82,910.85 149.08,910.84 150.33,910.82 151.59,910.81 152.84,910.79 154.1,910.77 155.35,910.76 156.61,910.74 157.87,910.72 159.12,910.71 160.38,910.69 161.63,910.67 162.89,910.65 164.14,910.63 165.4,910.62 166.65,910.6 167.91,910.58 169.16,910.56 170.42,910.54 171.67,910.52 172.93,910.5 174.19,910.48 175.44,910.46 176.7,910.44 177.95,910.42 179.21,910.4 180.46,910.38 181.72,910.35 182.97,910.33 184.23,910.31 185.48,910.29 186.74,910.26 188,910.24 189.25,910.22 190.51,910.19 191.76,910.17 193.02,910.15 194.27,910.12 195.53,910.1 196.78,910.07 198.04,910.04 199.29,910.02 200.55,909.99 201.81,909.97 203.06,909.94 204.32,909.91 205.57,909.88 206.83,909.85 208.08,909.83 209.34,909.8 210.59,909.77 211.85,909.74 213.1,909.71 214.36,909.68 215.61,909.65 216.87,909.62 218.13,909.59 219.38,909.55 220.64,909.52 221.89,909.49 223.15,909.46 224.4,909.42 225.66,909.39 226.91,909.35 228.17,909.32 229.42,909.28 230.68,909.25 231.94,909.21 233.19,909.17 234.45,909.14 235.7,909.1 236.96,909.06 238.21,909.02 239.47,908.98 240.72,908.94 241.98,908.9 243.23,908.86 244.49,908.82 245.74,908.78 247,908.74 248.26,908.7 249.51,908.65 250.77,908.61 252.02,908.56 253.28,908.52 254.53,908.47 255.79,908.43 257.04,908.38 258.3,908.33 259.55,908.29 260.81,908.24 262.07,908.19 263.32,908.14 264.58,908.09 265.83,908.04 267.09,907.99 268.34,907.94 269.6,907.88 270.85,907.83 272.11,907.78 273.36,907.72 274.62,907.67 275.88,907.61 277.13,907.55 278.39,907.5 279.64,907.44 280.9,907.38 282.15,907.32 283.41,907.26 284.66,907.2 285.92,907.14 287.17,907.07 288.43,907.01 289.68,906.95 290.94,906.88 292.2,906.82 293.45,906.75 294.71,906.68 295.96,906.61 297.22,906.54 298.47,906.47 299.73,906.4 300.98,906.33 302.24,906.26 303.49,906.19 304.75,906.11 306.01,906.04 307.26,905.96 308.52,905.89 309.77,905.81 311.03,905.73 312.28,905.65 313.54,905.57 314.79,905.49 316.05,905.41 317.3,905.32 318.56,905.24 319.82,905.15 321.07,905.07 322.33,904.98 323.58,904.89 324.84,904.8 326.09,904.71 327.35,904.62 328.6,904.53 329.86,904.43 331.11,904.34 332.37,904.24 333.62,904.14 334.88,904.04 336.14,903.95 337.39,903.84 338.65,903.74 339.9,903.64 341.16,903.54 342.41,903.43 343.67,903.32 344.92,903.22 346.18,903.11 347.43,903 348.69,902.88 349.95,902.77 351.2,902.66 352.46,902.54 353.71,902.42 354.97,902.3 356.22,902.18 357.48,902.06 358.73,901.94 359.99,901.81 361.24,901.69 362.5,901.56 363.75,901.43 365.01,901.3 366.27,901.17 367.52,901.03 368.78,900.9 370.03,900.76 371.29,900.62 372.54,900.48 373.8,900.34 375.05,900.19 376.31,900.05 377.56,899.9 378.82,899.75 380.08,899.6 381.33,899.44 382.59,899.29 383.84,899.13 385.1,898.97 386.35,898.8 387.61,898.64 388.86,898.47 390.12,898.3 391.37,898.13 392.63,897.96 393.89,897.78 395.14,897.6 396.4,897.42 397.65,897.23 398.91,897.04 400.16,896.85 401.42,896.66 402.67,896.46 403.93,896.26 405.18,896.06 406.44,895.85 407.69,895.64 408.95,895.43 410.21,895.21 411.46,894.99 412.72,894.76 413.97,894.53 415.23,894.3 416.48,894.06 417.74,893.82 418.99,893.57 420.25,893.31 421.5,893.06 422.76,892.79 424.02,892.52 425.27,892.25 426.53,891.97 427.78,891.68 429.04,891.39 430.29,891.08 431.55,890.78 432.8,890.46 434.06,890.14 435.31,889.81 436.57,889.47 437.83,889.12 439.08,888.76 440.34,888.4 441.59,888.02 442.85,887.64 444.1,887.24 445.36,886.83 446.61,886.41 447.87,885.98 449.12,885.53 450.38,885.07 451.63,884.6 452.89,884.12 454.15,883.61 455.4,883.1 456.66,882.56 457.91,882.01 459.17,881.45 460.42,880.86 461.68,880.25 462.93,879.63 464.19,878.98 465.44,878.31 466.7,877.62 467.96,876.91 469.21,876.17 470.47,875.41 471.72,874.62 472.98,873.81 474.23,872.97 475.49,872.1 476.74,871.2 478,870.27 479.25,869.31 480.51,868.31 481.76,867.29 483.02,866.22 484.28,865.13 485.53,864 486.79,862.83 488.04,861.63 489.3,860.39 490.55,859.11 491.81,857.79 493.06,856.43 494.32,855.03 495.57,853.59 496.83,852.11 498.09,850.59 499.34,849.03 500.6,847.42 501.85,845.77 503.11,844.08 504.36,842.34 505.62,840.56 506.87,838.73 508.13,836.85 509.38,834.91 510.64,832.91 511.9,830.84 513.15,828.68 514.41,826.42 515.66,824.03 516.92,821.49 518.17,818.75 519.43,815.77 520.68,812.49 521.94,808.87 523.19,804.86 524.45,800.46 525.7,795.7 526.96,790.65 528.22,785.46 529.47,780.27 530.73,775.26 531.98,770.54 533.24,766.19 534.49,762.24 535.75,758.67 537,755.43 538.26,752.48 539.51,749.77 540.77,747.25 542.03,744.88 543.28,742.64 544.54,740.49 545.79,738.43 547.05,736.44 548.3,734.51 549.56,732.63 550.81,730.81 552.07,729.03 553.32,727.3 554.58,725.61 555.84,723.97 557.09,722.37 558.35,720.82 559.6,719.3 560.86,717.82 562.11,716.39 563.37,715 564.62,713.64 565.88,712.33 567.13,711.06 568.39,709.82 569.64,708.62 570.9,707.46 572.16,706.33 573.41,705.24 574.67,704.19 575.92,703.16 577.18,702.17 578.43,701.22 579.69,700.29 580.94,699.39 582.2,698.53 583.45,697.69 584.71,696.88 585.97,696.09 587.22,695.34 588.48,694.6 589.73,693.89 590.99,693.21 592.24,692.54 593.5,691.9 594.75,691.27 596.01,690.67 597.26,690.09 598.52,689.52 599.77,688.97 601.03,688.44 602.29,687.93 603.54,687.43 604.8,686.94 606.05,686.47 607.31,686.02 608.56,685.57 609.82,685.14 611.07,684.72 612.33,684.32 613.58,683.92 614.84,683.54 616.1,683.16 617.35,682.8 618.61,682.44 619.86,682.09 621.12,681.76 622.37,681.43 623.63,681.1 624.88,680.79 626.14,680.48 627.39,680.18 628.65,679.89 629.91,679.6 631.16,679.32 632.42,679.05 633.67,678.78 634.93,678.52 636.18,678.26 637.44,678.01 638.69,677.76 639.95,677.52 641.2,677.28 642.46,677.05 643.71,676.82 644.97,676.59 646.23,676.37 647.48,676.15 648.74,675.94 649.99,675.73 651.25,675.52 652.5,675.32 653.76,675.12 655.01,674.92 656.27,674.73 657.52,674.54 658.78,674.35 660.04,674.17 661.29,673.99 662.55,673.81 663.8,673.63 665.06,673.46 666.31,673.28 667.57,673.12 668.82,672.95 670.08,672.78 671.33,672.62 672.59,672.46 673.85,672.3 675.1,672.15 676.36,671.99 677.61,671.84 678.87,671.69 680.12,671.54 681.38,671.4 682.63,671.25 683.89,671.11 685.14,670.97 686.4,670.83 687.65,670.69 688.91,670.56 690.17,670.42 691.42,670.29 692.68,670.16 693.93,670.03 695.19,669.9 696.44,669.78 697.7,669.65 698.95,669.53 700.21,669.41 701.46,669.29 702.72,669.17 703.98,669.05 705.23,668.94 706.49,668.82 707.74,668.71 709,668.6 710.25,668.49 711.51,668.38 712.76,668.27 714.02,668.16 715.27,668.06 716.53,667.96 717.78,667.85 719.04,667.75 720.3,667.65 721.55,667.55 722.81,667.45 724.06,667.36 725.32,667.26 726.57,667.16 727.83,667.07 729.08,666.98 730.34,666.89 731.59,666.8 732.85,666.71 734.11,666.62 735.36,666.53 736.62,666.45 737.87,666.36 739.13,666.28 740.38,666.19 741.64,666.11 742.89,666.03 744.15,665.95 745.4,665.87 746.66,665.79 747.92,665.71 749.17,665.64 750.43,665.56 751.68,665.49 752.94,665.41 754.19,665.34 755.45,665.27 756.7,665.2 757.96,665.12 759.21,665.06 760.47,664.99 761.72,664.92 762.98,664.85 764.24,664.78 765.49,664.72 766.75,664.65 768,664.59 769.26,664.53 770.51,664.46 771.77,664.4 773.02,664.34 774.28,664.28 775.53,664.22 776.79,664.16 778.05,664.11 779.3,664.05 780.56,663.99 781.81,663.94 783.07,663.88 784.32,663.83 785.58,663.77 786.83,663.72 788.09,663.67 789.34,663.61 790.6,663.56 791.86,663.51 793.11,663.46 794.37,663.41 795.62,663.36 796.88,663.32 798.13,663.27 799.39,663.22 800.64,663.17 801.9,663.13 803.15,663.08 804.41,663.04 805.66,662.99 806.92,662.95 808.18,662.91 809.43,662.86 810.69,662.82 811.94,662.78 813.2,662.74 814.45,662.7 815.71,662.66 816.96,662.62 818.22,662.58 819.47,662.54 820.73,662.5 821.99,662.47 823.24,662.43 824.5,662.39 825.75,662.36 827.01,662.32 828.26,662.29 829.52,662.25 830.77,662.22 832.03,662.18 833.28,662.15 834.54,662.12 835.79,662.08 837.05,662.05 838.31,662.02 839.56,661.99 840.82,661.96 842.07,661.93 843.33,661.9 844.58,661.87 845.84,661.84 847.09,661.81 848.35,661.78 849.6,661.75 850.86,661.72 852.12,661.69 853.37,661.67 854.63,661.64 855.88,661.61 857.14,661.59 858.39,661.56 859.65,661.54 860.9,661.51 862.16,661.49 863.41,661.46 864.67,661.44 865.93,661.41 867.18,661.39 868.44,661.36 869.69,661.34 870.95,661.32 872.2,661.3 873.46,661.27 874.71,661.25 875.97,661.23 877.22,661.21 878.48,661.19 879.73,661.17 880.99,661.15 882.25,661.13 883.5,661.11 884.76,661.09 886.01,661.07 887.27,661.05 888.52,661.03 889.78,661.01 891.03,660.99 892.29,660.97 893.54,660.95 894.8,660.94" fill="none" stroke="#f00" stroke-width="4.3" stroke-linejoin="round" stroke-linecap="round" /></g><rect x="142.8" y="21.9" width="752.0" height="463.40000000000003" fill="none" stroke="#000" stroke-width="2.7"/><path d="M205.47,485.3v-5M205.47,21.9v5M268.13,485.3v-10M268.13,21.9v10M330.8,485.3v-5M330.8,21.9v5M393.47,485.3v-10M393.47,21.9v10M456.13,485.3v-5M456.13,21.9v5M518.8,485.3v-10M518.8,21.9v10M581.47,485.3v-5M581.47,21.9v5M644.13,485.3v-10M644.13,21.9v10M706.8,485.3v-5M706.8,21.9v5M769.47,485.3v-10M769.47,21.9v10M832.13,485.3v-5M832.13,21.9v5M142.8,427.38h5M142.8,369.45h10M142.8,311.52h5M142.8,253.6h10M142.8,195.68h5M142.8,137.75h10M142.8,79.82h5" stroke="#000" stroke-width="2.6" fill="none"/><rect x="142.8" y="552.2" width="752.0" height="463.79999999999995" fill="none" stroke="#000" stroke-width="2.7"/><path d="M205.47,1016v-5M205.47,552.2v5M268.13,1016v-10M268.13,552.2v10M330.8,1016v-5M330.8,552.2v5M393.47,1016v-10M393.47,552.2v10M456.13,1016v-5M456.13,552.2v5M518.8,1016v-10M518.8,552.2v10M581.47,1016v-5M581.47,552.2v5M644.13,1016v-10M644.13,552.2v10M706.8,1016v-5M706.8,552.2v5M769.47,1016v-10M769.47,552.2v10M832.13,1016v-5M832.13,552.2v5M142.8,958.03h5M142.8,900.05h10M142.8,842.08h5M142.8,784.1h10M142.8,726.12h5M142.8,668.15h10M142.8,610.17h5" stroke="#000" stroke-width="2.6" fill="none"/><text transform="translate(131.5,32.4) scale(0.98,1.05)" text-anchor="end" style="font-family:'Liberation Sans',sans-serif;font-size:35px">0.8</text><text transform="translate(131.5,148.25) scale(0.98,1.05)" text-anchor="end" style="font-family:'Liberation Sans',sans-serif;font-size:35px">0.4</text><text transform="translate(131.5,264.1) scale(0.98,1.05)" text-anchor="end" style="font-family:'Liberation Sans',sans-serif;font-size:35px">0.0</text><text transform="translate(131.5,379.95) scale(0.98,1.05)" text-anchor="end" style="font-family:'Liberation Sans',sans-serif;font-size:35px">-0.4</text><text transform="translate(131.5,495.8) scale(0.98,1.05)" text-anchor="end" style="font-family:'Liberation Sans',sans-serif;font-size:35px">-0.8</text><text transform="translate(131.5,562.7) scale(0.98,1.05)" text-anchor="end" style="font-family:'Liberation Sans',sans-serif;font-size:35px">0.8</text><text transform="translate(131.5,678.65) scale(0.98,1.05)" text-anchor="end" style="font-family:'Liberation Sans',sans-serif;font-size:35px">0.4</text><text transform="translate(131.5,794.6) scale(0.98,1.05)" text-anchor="end" style="font-family:'Liberation Sans',sans-serif;font-size:35px">0.0</text><text transform="translate(131.5,910.55) scale(0.98,1.05)" text-anchor="end" style="font-family:'Liberation Sans',sans-serif;font-size:35px">-0.4</text><text transform="translate(131.5,1026.5) scale(0.98,1.05)" text-anchor="end" style="font-family:'Liberation Sans',sans-serif;font-size:35px">-0.8</text><text transform="translate(142.8,1054.8) scale(0.98,1.05)" text-anchor="middle" style="font-family:'Liberation Sans',sans-serif;font-size:35px">-6</text><text transform="translate(268.13,1054.8) scale(0.98,1.05)" text-anchor="middle" style="font-family:'Liberation Sans',sans-serif;font-size:35px">-4</text><text transform="translate(393.47,1054.8) scale(0.98,1.05)" text-anchor="middle" style="font-family:'Liberation Sans',sans-serif;font-size:35px">-2</text><text transform="translate(518.8,1054.8) scale(0.98,1.05)" text-anchor="middle" style="font-family:'Liberation Sans',sans-serif;font-size:35px">0</text><text transform="translate(644.13,1054.8) scale(0.98,1.05)" text-anchor="middle" style="font-family:'Liberation Sans',sans-serif;font-size:35px">2</text><text transform="translate(769.47,1054.8) scale(0.98,1.05)" text-anchor="middle" style="font-family:'Liberation Sans',sans-serif;font-size:35px">4</text><text transform="translate(894.8,1054.8) scale(0.98,1.05)" text-anchor="middle" style="font-family:'Liberation Sans',sans-serif;font-size:35px">6</text><text transform="translate(517,1104) scale(1.01,1.0)" text-anchor="middle" style="font-family:'Liberation Sans',sans-serif;font-size:44px;font-weight:bold">Field (kOe)</text><g transform="translate(39.3,516.3) rotate(-90)"><text transform="scale(1,1.05)" style="font-family:'Liberation Sans',sans-serif;font-size:44px;font-weight:bold">Magnetization (</text><text transform="translate(321.0,0) scale(1.26,1.0)" style="font-family:'Liberation Serif',serif;font-size:42px">μ</text><text transform="translate(348.3,0) scale(1,1.05)" style="font-family:'Liberation Sans',sans-serif;font-size:44px;font-weight:bold"><tspan dy="15" style="font-size:26px">B</tspan><tspan dy="-15">/vac.)</tspan></text></g><g transform="translate(42.8,1037.3) rotate(-90)"><text transform="scale(1,1.05)" style="font-family:'Liberation Sans',sans-serif;font-size:44px;font-weight:bold">Magnetization (</text><text transform="translate(321.0,0) scale(1.26,1.0)" style="font-family:'Liberation Serif',serif;font-size:42px">μ</text><text transform="translate(348.3,0) scale(1,1.05)" style="font-family:'Liberation Sans',sans-serif;font-size:44px;font-weight:bold"><tspan dy="15" style="font-size:26px">B</tspan><tspan dy="-15">/vac.)</tspan></text></g><text transform="translate(156,64.6) scale(1.0,0.96)" style="font-family:'Liberation Sans',sans-serif;font-size:44px;font-weight:bold">(a)</text><text transform="translate(157.5,595.8) scale(1.0,0.96)" style="font-family:'Liberation Sans',sans-serif;font-size:44px;font-weight:bold">(b)</text><line x1="239.5" y1="57" x2="319" y2="57" stroke="#000" stroke-width="2.7"/><rect x="274" y="51.5" width="11" height="11" fill="#000"/><text transform="translate(328,69.3) scale(0.98,1.05)" style="font-family:'Liberation Sans',sans-serif;font-size:35px">5E12</text><line x1="239.5" y1="99.8" x2="319" y2="99.8" stroke="#f00" stroke-width="2.7"/><circle cx="279.5" cy="99.8" r="6.5" fill="#f00"/><text transform="translate(328,112.1) scale(0.98,1.05)" style="font-family:'Liberation Sans',sans-serif;font-size:35px">1E13</text><line x1="239.5" y1="142.2" x2="319" y2="142.2" stroke="#0f0" stroke-width="2.7"/><path d="M279.5,133.8L286.75,146.4L272.25,146.4Z" fill="#0f0"/><text transform="translate(328,154.5) scale(0.98,1.05)" style="font-family:'Liberation Sans',sans-serif;font-size:35px">5E13</text><line x1="239.5" y1="185" x2="319" y2="185" stroke="#00f" stroke-width="2.7"/><path d="M279.5,178V192M272.6,178.4L286.4,191.6M286.4,178.4L272.6,191.6" stroke="#00f" stroke-width="2.2" fill="none"/><text transform="translate(328,197.3) scale(0.98,1.05)" style="font-family:'Liberation Sans',sans-serif;font-size:35px">1E14</text><text transform="translate(233,604.4) scale(0.98,1.05)" style="font-family:'Liberation Sans',sans-serif;font-size:35px">Sample 5E12</text><line x1="231" y1="635.7" x2="310.5" y2="635.7" stroke="#000" stroke-width="2.8"/><rect x="264.7" y="629.7" width="12" height="12" fill="#000"/><text transform="translate(320,647.6) scale(0.98,1.05)" style="font-family:'Liberation Sans',sans-serif;font-size:35px">5 K</text><line x1="232" y1="677.9" x2="309.5" y2="677.9" stroke="#f00" stroke-width="4" stroke-linecap="round"/><text transform="translate(320,689.6) scale(0.98,1.05)" style="font-family:'Liberation Sans',sans-serif;font-size:35px">300 K</text><rect x="631.8" y="262.8" width="224.80000000000007" height="185.2" fill="#fff" stroke="#000" stroke-width="1.3"/><path d="M659.9,448.0v-2M659.9,262.8v2M688,448.0v-3M688,262.8v3M716.1,448.0v-2M716.1,262.8v2M744.2,448.0v-3M744.2,262.8v3M772.3,448.0v-2M772.3,262.8v2M800.4,448.0v-3M800.4,262.8v3M828.5,448.0v-2M828.5,262.8v2M631.8,424.85h2M856.6,424.85h-2M631.8,401.7h3M856.6,401.7h-3M631.8,378.55h2M856.6,378.55h-2M631.8,355.4h3M856.6,355.4h-3M631.8,332.25h2M856.6,332.25h-2M631.8,309.1h3M856.6,309.1h-3M631.8,285.95h2M856.6,285.95h-2" stroke="#000" stroke-width="1.1" fill="none"/><line x1="631.8" y1="273.54" x2="856.6" y2="437.26" stroke="#000" stroke-width="2"/><polyline points="856.6,412.9 853.79,410.82 850.98,408.76 848.17,406.73 845.36,404.72 842.55,402.73 839.74,400.77 836.93,398.82 834.12,396.9 831.31,394.99 828.5,393.11 825.69,391.24 822.88,389.39 820.07,387.56 817.26,385.74 814.45,383.94 811.64,382.15 808.83,380.38 806.02,378.63 803.21,376.88 800.4,375.15 797.59,373.43 794.78,371.73 791.97,370.03 789.16,368.35 786.35,366.67 783.54,365 780.73,363.35 777.92,361.7 775.11,360.05 772.3,358.42 769.49,356.79 766.68,355.17 763.87,353.55 761.06,351.93 758.25,350.32 758.25,350.32 757.97,350.16 757.69,350 757.41,349.84 757.13,349.68 756.85,349.52 756.56,349.35 756.28,349.19 756,349.03 755.72,348.87 755.44,348.71 755.16,348.55 754.88,348.39 754.6,348.23 754.32,348.07 754.03,347.91 753.75,347.75 753.47,347.59 753.19,347.43 752.91,347.27 752.63,347.11 752.35,346.95 752.07,346.79 751.79,346.64 751.51,346.48 751.23,346.32 750.94,346.17 750.66,346.02 750.38,345.87 750.1,345.72 749.82,345.58 749.54,345.44 749.26,345.3 748.98,345.18 748.7,345.06 748.41,344.95 748.13,344.87 747.85,344.8 747.57,344.75 747.29,344.74 747.01,344.77 746.73,344.84 746.45,344.98 746.17,345.19 745.89,345.49 745.61,345.89 745.32,346.42 745.04,347.09 744.76,347.91 744.48,348.88 744.2,350.01 743.92,351.27 743.64,352.65 743.36,354.1 743.08,355.58 742.79,357.03 742.51,358.41 742.23,359.67 741.95,360.8 741.67,361.77 741.39,362.59 741.11,363.26 740.83,363.78 740.55,364.19 740.27,364.49 739.99,364.7 739.7,364.84 739.42,364.91 739.14,364.94 738.86,364.93 738.58,364.88 738.3,364.81 738.02,364.72 737.74,364.62 737.46,364.5 737.17,364.38 736.89,364.24 736.61,364.1 736.33,363.96 736.05,363.81 735.77,363.66 735.49,363.51 735.21,363.35 734.93,363.2 734.65,363.04 734.37,362.88 734.08,362.72 733.8,362.56 733.52,362.41 733.24,362.25 732.96,362.09 732.68,361.93 732.4,361.77 732.12,361.6 731.84,361.44 731.55,361.28 731.27,361.12 730.99,360.96 730.71,360.8 730.43,360.64 730.15,360.48 730.15,360.48 727.34,358.87 724.53,357.25 721.72,355.63 718.91,354.01 716.1,352.38 713.29,350.75 710.48,349.1 707.67,347.45 704.86,345.8 702.05,344.13 699.24,342.45 696.43,340.77 693.62,339.07 690.81,337.37 688,335.65 685.19,333.92 682.38,332.17 679.57,330.42 676.76,328.65 673.95,326.86 671.14,325.06 668.33,323.24 665.52,321.41 662.71,319.56 659.9,317.69 657.09,315.81 654.28,313.9 651.47,311.98 648.66,310.03 645.85,308.07 643.04,306.08 640.23,304.07 637.42,302.04 634.61,299.98 631.8,297.9" fill="none" stroke="#e00" stroke-width="1.3" stroke-linejoin="round" stroke-linecap="round" /><polyline points="631.8,297.9 634.61,299.98 637.42,302.04 640.23,304.07 643.04,306.08 645.85,308.07 648.66,310.03 651.47,311.98 654.28,313.9 657.09,315.81 659.9,317.69 662.71,319.56 665.52,321.41 668.33,323.24 671.14,325.06 673.95,326.86 676.76,328.65 679.57,330.42 682.38,332.17 685.19,333.92 688,335.65 690.81,337.37 693.62,339.07 696.43,340.77 699.24,342.45 702.05,344.13 704.86,345.8 707.67,347.45 710.48,349.1 713.29,350.75 716.1,352.38 718.91,354.01 721.72,355.63 724.53,357.25 727.34,358.87 730.15,360.48 730.15,360.48 730.43,360.64 730.71,360.8 730.99,360.96 731.27,361.12 731.55,361.28 731.84,361.45 732.12,361.61 732.4,361.77 732.68,361.93 732.96,362.09 733.24,362.25 733.52,362.41 733.8,362.57 734.08,362.73 734.37,362.89 734.65,363.05 734.93,363.21 735.21,363.37 735.49,363.53 735.77,363.69 736.05,363.85 736.33,364.01 736.61,364.16 736.89,364.32 737.17,364.48 737.46,364.63 737.74,364.78 738.02,364.93 738.3,365.08 738.58,365.22 738.86,365.36 739.14,365.5 739.42,365.62 739.7,365.74 739.99,365.85 740.27,365.93 740.55,366 740.83,366.05 741.11,366.06 741.39,366.03 741.67,365.96 741.95,365.82 742.23,365.61 742.51,365.31 742.79,364.91 743.08,364.38 743.36,363.71 743.64,362.89 743.92,361.92 744.2,360.79 744.48,359.53 744.76,358.15 745.04,356.7 745.32,355.22 745.61,353.77 745.89,352.39 746.17,351.13 746.45,350 746.73,349.03 747.01,348.21 747.29,347.54 747.57,347.02 747.85,346.61 748.13,346.31 748.41,346.1 748.7,345.96 748.98,345.89 749.26,345.86 749.54,345.87 749.82,345.92 750.1,345.99 750.38,346.08 750.66,346.18 750.94,346.3 751.23,346.42 751.51,346.56 751.79,346.7 752.07,346.84 752.35,346.99 752.63,347.14 752.91,347.29 753.19,347.45 753.47,347.6 753.75,347.76 754.03,347.92 754.32,348.08 754.6,348.24 754.88,348.39 755.16,348.55 755.44,348.71 755.72,348.87 756,349.03 756.28,349.2 756.56,349.36 756.85,349.52 757.13,349.68 757.41,349.84 757.69,350 757.97,350.16 758.25,350.32 758.25,350.32 761.06,351.93 763.87,353.55 766.68,355.17 769.49,356.79 772.3,358.42 775.11,360.05 777.92,361.7 780.73,363.35 783.54,365 786.35,366.67 789.16,368.35 791.97,370.03 794.78,371.73 797.59,373.43 800.4,375.15 803.21,376.88 806.02,378.63 808.83,380.38 811.64,382.15 814.45,383.94 817.26,385.74 820.07,387.56 822.88,389.39 825.69,391.24 828.5,393.11 831.31,394.99 834.12,396.9 836.93,398.82 839.74,400.77 842.55,402.73 845.36,404.72 848.17,406.73 850.98,408.76 853.79,410.82 856.6,412.9" fill="none" stroke="#e00" stroke-width="1.3" stroke-linejoin="round" stroke-linecap="round" /><circle cx="732.96" cy="362.09" r="1.3" fill="#e00"/><circle cx="733.24" cy="362.25" r="1.3" fill="#e00"/><circle cx="733.52" cy="362.41" r="1.3" fill="#e00"/><circle cx="733.8" cy="362.56" r="1.3" fill="#e00"/><circle cx="734.08" cy="362.72" r="1.3" fill="#e00"/><circle cx="734.37" cy="362.88" r="1.3" fill="#e00"/><circle cx="734.65" cy="363.04" r="1.3" fill="#e00"/><circle cx="734.93" cy="363.2" r="1.3" fill="#e00"/><circle cx="735.21" cy="363.35" r="1.3" fill="#e00"/><circle cx="735.49" cy="363.51" r="1.3" fill="#e00"/><circle cx="735.77" cy="363.66" r="1.3" fill="#e00"/><circle cx="736.05" cy="363.81" r="1.3" fill="#e00"/><circle cx="736.33" cy="363.96" r="1.3" fill="#e00"/><circle cx="736.61" cy="364.1" r="1.3" fill="#e00"/><circle cx="736.89" cy="364.24" r="1.3" fill="#e00"/><circle cx="737.17" cy="364.38" r="1.3" fill="#e00"/><circle cx="737.46" cy="364.5" r="1.3" fill="#e00"/><circle cx="737.74" cy="364.62" r="1.3" fill="#e00"/><circle cx="738.02" cy="364.72" r="1.3" fill="#e00"/><circle cx="738.3" cy="364.81" r="1.3" fill="#e00"/><circle cx="738.58" cy="364.88" r="1.3" fill="#e00"/><circle cx="738.86" cy="364.93" r="1.3" fill="#e00"/><circle cx="739.14" cy="364.94" r="1.3" fill="#e00"/><circle cx="739.42" cy="364.91" r="1.3" fill="#e00"/><circle cx="739.7" cy="364.84" r="1.3" fill="#e00"/><circle cx="739.99" cy="364.7" r="1.3" fill="#e00"/><circle cx="740.27" cy="364.49" r="1.3" fill="#e00"/><circle cx="740.55" cy="364.19" r="1.3" fill="#e00"/><circle cx="740.83" cy="363.78" r="1.3" fill="#e00"/><circle cx="741.11" cy="363.26" r="1.3" fill="#e00"/><circle cx="741.39" cy="362.59" r="1.3" fill="#e00"/><circle cx="741.67" cy="361.77" r="1.3" fill="#e00"/><circle cx="741.95" cy="360.8" r="1.3" fill="#e00"/><circle cx="742.23" cy="359.67" r="1.3" fill="#e00"/><circle cx="742.51" cy="358.41" r="1.3" fill="#e00"/><circle cx="742.79" cy="357.03" r="1.3" fill="#e00"/><circle cx="743.08" cy="355.58" r="1.3" fill="#e00"/><circle cx="743.36" cy="354.1" r="1.3" fill="#e00"/><circle cx="743.64" cy="352.65" r="1.3" fill="#e00"/><circle cx="743.92" cy="351.27" r="1.3" fill="#e00"/><circle cx="744.2" cy="350.01" r="1.3" fill="#e00"/><circle cx="744.48" cy="348.88" r="1.3" fill="#e00"/><circle cx="744.76" cy="347.91" r="1.3" fill="#e00"/><circle cx="745.04" cy="347.09" r="1.3" fill="#e00"/><circle cx="745.32" cy="346.42" r="1.3" fill="#e00"/><circle cx="745.61" cy="345.89" r="1.3" fill="#e00"/><circle cx="745.89" cy="345.49" r="1.3" fill="#e00"/><circle cx="746.17" cy="345.19" r="1.3" fill="#e00"/><circle cx="746.45" cy="344.98" r="1.3" fill="#e00"/><circle cx="746.73" cy="344.84" r="1.3" fill="#e00"/><circle cx="747.01" cy="344.77" r="1.3" fill="#e00"/><circle cx="747.29" cy="344.74" r="1.3" fill="#e00"/><circle cx="747.57" cy="344.75" r="1.3" fill="#e00"/><circle cx="747.85" cy="344.8" r="1.3" fill="#e00"/><circle cx="748.13" cy="344.87" r="1.3" fill="#e00"/><circle cx="748.41" cy="344.95" r="1.3" fill="#e00"/><circle cx="748.7" cy="345.06" r="1.3" fill="#e00"/><circle cx="748.98" cy="345.18" r="1.3" fill="#e00"/><circle cx="749.26" cy="345.3" r="1.3" fill="#e00"/><circle cx="749.54" cy="345.44" r="1.3" fill="#e00"/><circle cx="749.82" cy="345.58" r="1.3" fill="#e00"/><circle cx="750.1" cy="345.72" r="1.3" fill="#e00"/><circle cx="750.38" cy="345.87" r="1.3" fill="#e00"/><circle cx="750.66" cy="346.02" r="1.3" fill="#e00"/><circle cx="750.94" cy="346.17" r="1.3" fill="#e00"/><circle cx="751.23" cy="346.32" r="1.3" fill="#e00"/><circle cx="751.51" cy="346.48" r="1.3" fill="#e00"/><circle cx="751.79" cy="346.64" r="1.3" fill="#e00"/><circle cx="752.07" cy="346.79" r="1.3" fill="#e00"/><circle cx="752.35" cy="346.95" r="1.3" fill="#e00"/><circle cx="752.63" cy="347.11" r="1.3" fill="#e00"/><circle cx="752.91" cy="347.27" r="1.3" fill="#e00"/><circle cx="753.19" cy="347.43" r="1.3" fill="#e00"/><circle cx="753.47" cy="347.59" r="1.3" fill="#e00"/><circle cx="753.75" cy="347.75" r="1.3" fill="#e00"/><circle cx="754.03" cy="347.91" r="1.3" fill="#e00"/><circle cx="754.32" cy="348.07" r="1.3" fill="#e00"/><circle cx="754.6" cy="348.23" r="1.3" fill="#e00"/><circle cx="754.88" cy="348.39" r="1.3" fill="#e00"/><circle cx="755.16" cy="348.55" r="1.3" fill="#e00"/><circle cx="755.44" cy="348.71" r="1.3" fill="#e00"/><circle cx="732.96" cy="362.09" r="1.3" fill="#e00"/><circle cx="733.24" cy="362.25" r="1.3" fill="#e00"/><circle cx="733.52" cy="362.41" r="1.3" fill="#e00"/><circle cx="733.8" cy="362.57" r="1.3" fill="#e00"/><circle cx="734.08" cy="362.73" r="1.3" fill="#e00"/><circle cx="734.37" cy="362.89" r="1.3" fill="#e00"/><circle cx="734.65" cy="363.05" r="1.3" fill="#e00"/><circle cx="734.93" cy="363.21" r="1.3" fill="#e00"/><circle cx="735.21" cy="363.37" r="1.3" fill="#e00"/><circle cx="735.49" cy="363.53" r="1.3" fill="#e00"/><circle cx="735.77" cy="363.69" r="1.3" fill="#e00"/><circle cx="736.05" cy="363.85" r="1.3" fill="#e00"/><circle cx="736.33" cy="364.01" r="1.3" fill="#e00"/><circle cx="736.61" cy="364.16" r="1.3" fill="#e00"/><circle cx="736.89" cy="364.32" r="1.3" fill="#e00"/><circle cx="737.17" cy="364.48" r="1.3" fill="#e00"/><circle cx="737.46" cy="364.63" r="1.3" fill="#e00"/><circle cx="737.74" cy="364.78" r="1.3" fill="#e00"/><circle cx="738.02" cy="364.93" r="1.3" fill="#e00"/><circle cx="738.3" cy="365.08" r="1.3" fill="#e00"/><circle cx="738.58" cy="365.22" r="1.3" fill="#e00"/><circle cx="738.86" cy="365.36" r="1.3" fill="#e00"/><circle cx="739.14" cy="365.5" r="1.3" fill="#e00"/><circle cx="739.42" cy="365.62" r="1.3" fill="#e00"/><circle cx="739.7" cy="365.74" r="1.3" fill="#e00"/><circle cx="739.99" cy="365.85" r="1.3" fill="#e00"/><circle cx="740.27" cy="365.93" r="1.3" fill="#e00"/><circle cx="740.55" cy="366" r="1.3" fill="#e00"/><circle cx="740.83" cy="366.05" r="1.3" fill="#e00"/><circle cx="741.11" cy="366.06" r="1.3" fill="#e00"/><circle cx="741.39" cy="366.03" r="1.3" fill="#e00"/><circle cx="741.67" cy="365.96" r="1.3" fill="#e00"/><circle cx="741.95" cy="365.82" r="1.3" fill="#e00"/><circle cx="742.23" cy="365.61" r="1.3" fill="#e00"/><circle cx="742.51" cy="365.31" r="1.3" fill="#e00"/><circle cx="742.79" cy="364.91" r="1.3" fill="#e00"/><circle cx="743.08" cy="364.38" r="1.3" fill="#e00"/><circle cx="743.36" cy="363.71" r="1.3" fill="#e00"/><circle cx="743.64" cy="362.89" r="1.3" fill="#e00"/><circle cx="743.92" cy="361.92" r="1.3" fill="#e00"/><circle cx="744.2" cy="360.79" r="1.3" fill="#e00"/><circle cx="744.48" cy="359.53" r="1.3" fill="#e00"/><circle cx="744.76" cy="358.15" r="1.3" fill="#e00"/><circle cx="745.04" cy="356.7" r="1.3" fill="#e00"/><circle cx="745.32" cy="355.22" r="1.3" fill="#e00"/><circle cx="745.61" cy="353.77" r="1.3" fill="#e00"/><circle cx="745.89" cy="352.39" r="1.3" fill="#e00"/><circle cx="746.17" cy="351.13" r="1.3" fill="#e00"/><circle cx="746.45" cy="350" r="1.3" fill="#e00"/><circle cx="746.73" cy="349.03" r="1.3" fill="#e00"/><circle cx="747.01" cy="348.21" r="1.3" fill="#e00"/><circle cx="747.29" cy="347.54" r="1.3" fill="#e00"/><circle cx="747.57" cy="347.02" r="1.3" fill="#e00"/><circle cx="747.85" cy="346.61" r="1.3" fill="#e00"/><circle cx="748.13" cy="346.31" r="1.3" fill="#e00"/><circle cx="748.41" cy="346.1" r="1.3" fill="#e00"/><circle cx="748.7" cy="345.96" r="1.3" fill="#e00"/><circle cx="748.98" cy="345.89" r="1.3" fill="#e00"/><circle cx="749.26" cy="345.86" r="1.3" fill="#e00"/><circle cx="749.54" cy="345.87" r="1.3" fill="#e00"/><circle cx="749.82" cy="345.92" r="1.3" fill="#e00"/><circle cx="750.1" cy="345.99" r="1.3" fill="#e00"/><circle cx="750.38" cy="346.08" r="1.3" fill="#e00"/><circle cx="750.66" cy="346.18" r="1.3" fill="#e00"/><circle cx="750.94" cy="346.3" r="1.3" fill="#e00"/><circle cx="751.23" cy="346.42" r="1.3" fill="#e00"/><circle cx="751.51" cy="346.56" r="1.3" fill="#e00"/><circle cx="751.79" cy="346.7" r="1.3" fill="#e00"/><circle cx="752.07" cy="346.84" r="1.3" fill="#e00"/><circle cx="752.35" cy="346.99" r="1.3" fill="#e00"/><circle cx="752.63" cy="347.14" r="1.3" fill="#e00"/><circle cx="752.91" cy="347.29" r="1.3" fill="#e00"/><circle cx="753.19" cy="347.45" r="1.3" fill="#e00"/><circle cx="753.47" cy="347.6" r="1.3" fill="#e00"/><circle cx="753.75" cy="347.76" r="1.3" fill="#e00"/><circle cx="754.03" cy="347.92" r="1.3" fill="#e00"/><circle cx="754.32" cy="348.08" r="1.3" fill="#e00"/><circle cx="754.6" cy="348.24" r="1.3" fill="#e00"/><circle cx="754.88" cy="348.39" r="1.3" fill="#e00"/><circle cx="755.16" cy="348.55" r="1.3" fill="#e00"/><circle cx="755.44" cy="348.71" r="1.3" fill="#e00"/><text transform="translate(629.2,266) scale(1.02,1.0)" text-anchor="end" style="font-family:'Liberation Sans',sans-serif;font-size:11.2px">10</text><text transform="translate(629.2,312.3) scale(1.02,1.0)" text-anchor="end" style="font-family:'Liberation Sans',sans-serif;font-size:11.2px">5</text><text transform="translate(629.2,358.6) scale(1.02,1.0)" text-anchor="end" style="font-family:'Liberation Sans',sans-serif;font-size:11.2px">0</text><text transform="translate(629.2,404.9) scale(1.02,1.0)" text-anchor="end" style="font-family:'Liberation Sans',sans-serif;font-size:11.2px">-5</text><text transform="translate(629.2,451.2) scale(1.02,1.0)" text-anchor="end" style="font-family:'Liberation Sans',sans-serif;font-size:11.2px">-10</text><text transform="translate(631.8,460.2) scale(1.02,1.0)" text-anchor="middle" style="font-family:'Liberation Sans',sans-serif;font-size:11.2px">-40</text><text transform="translate(688,460.2) scale(1.02,1.0)" text-anchor="middle" style="font-family:'Liberation Sans',sans-serif;font-size:11.2px">-20</text><text transform="translate(744.2,460.2) scale(1.02,1.0)" text-anchor="middle" style="font-family:'Liberation Sans',sans-serif;font-size:11.2px">0</text><text transform="translate(800.4,460.2) scale(1.02,1.0)" text-anchor="middle" style="font-family:'Liberation Sans',sans-serif;font-size:11.2px">20</text><text transform="translate(856.6,460.2) scale(1.02,1.0)" text-anchor="middle" style="font-family:'Liberation Sans',sans-serif;font-size:11.2px">40</text><text transform="translate(744.3,478.6) scale(1.04,1.0)" text-anchor="middle" style="font-family:'Liberation Sans',sans-serif;font-size:17px;font-weight:bold">Field (kOe)</text><text transform="translate(605,416) rotate(-90) scale(1.055,1.0)" style="font-family:'Liberation Sans',sans-serif;font-size:16.5px;font-weight:bold">M (10<tspan dy="-6.5" style="font-size:12px">-3</tspan><tspan dy="6.5"> emu/g)</tspan></text><text transform="translate(749,288.8) scale(1.13,1.0)" style="font-family:'Liberation Sans',sans-serif;font-size:15.6px">at 5 K</text><line x1="748.6" y1="304.4" x2="788.9" y2="304.4" stroke="#000" stroke-width="2"/><text transform="translate(793.3,310.4) scale(1.13,1.0)" style="font-family:'Liberation Sans',sans-serif;font-size:15.6px">pristine</text><line x1="748.6" y1="326.5" x2="788.9" y2="326.5" stroke="#e00" stroke-width="1.3"/><circle cx="768.6" cy="326.5" r="1.2" fill="#e00"/><text transform="translate(793.3,332.6) scale(1.13,1.0)" style="font-family:'Liberation Sans',sans-serif;font-size:15.6px">5E12</text></svg></body></html>
